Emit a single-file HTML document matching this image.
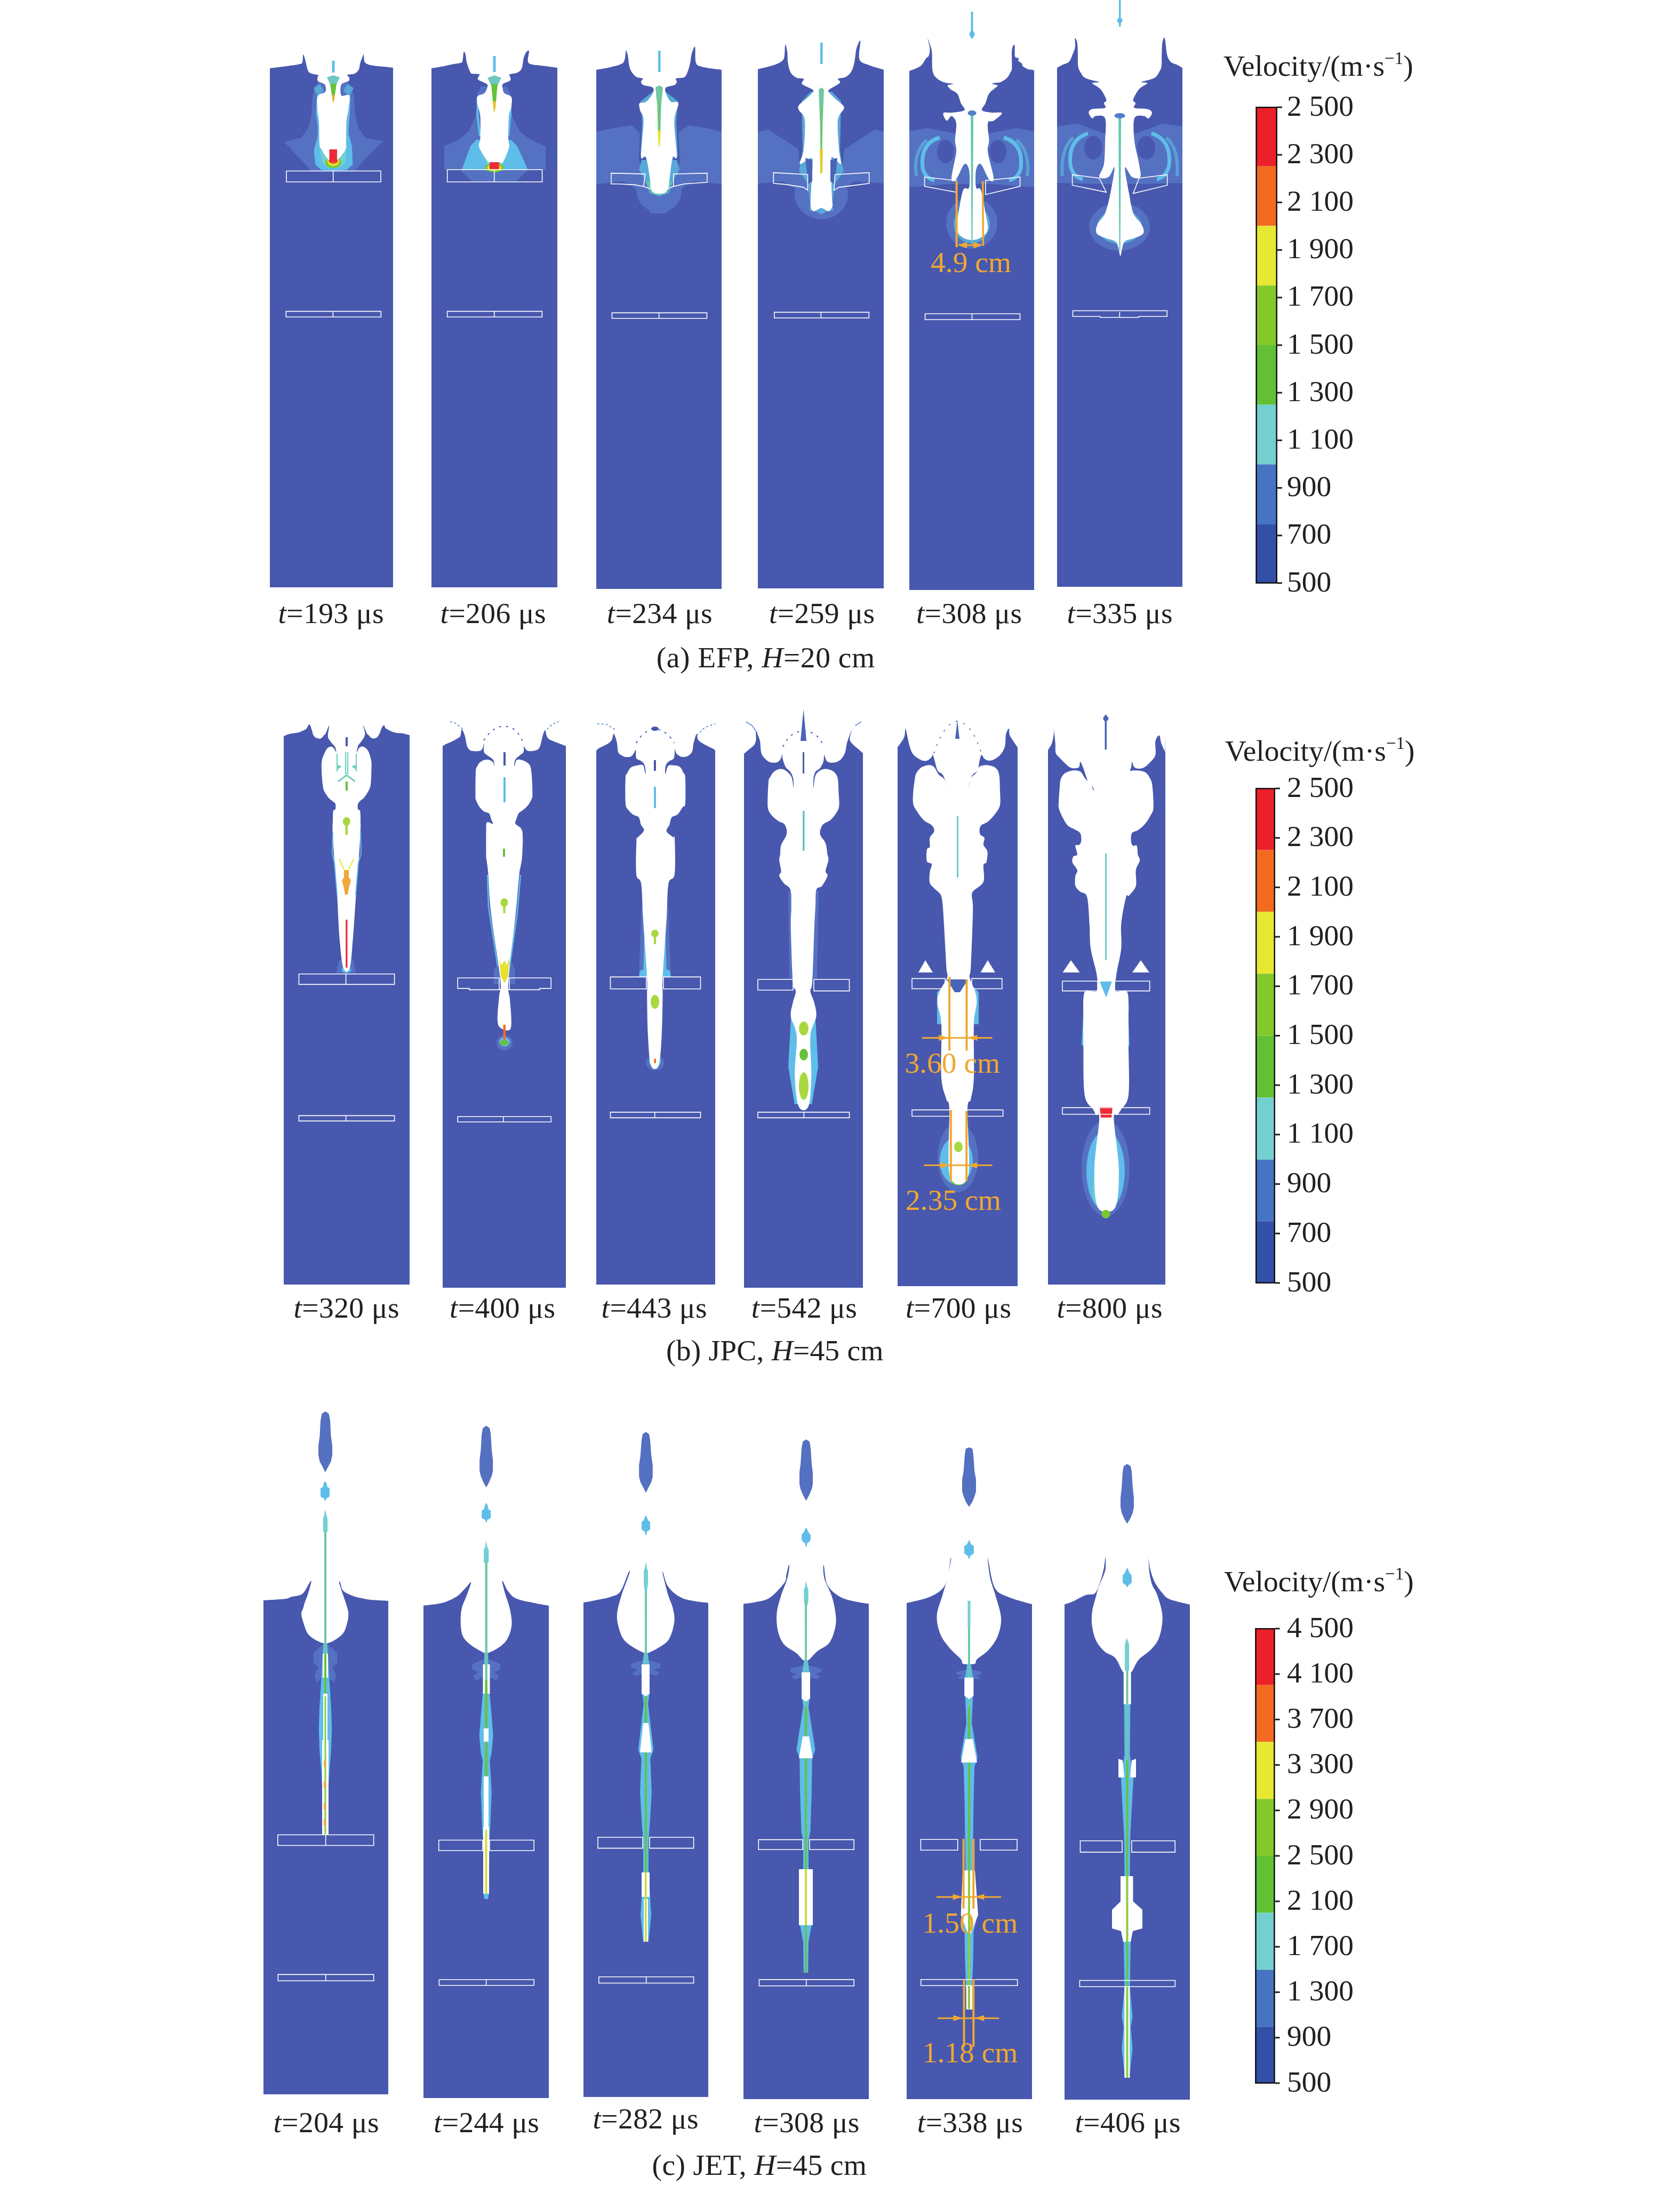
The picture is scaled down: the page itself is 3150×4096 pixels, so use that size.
<!DOCTYPE html>
<html><head><meta charset="utf-8"><style>
html,body{margin:0;padding:0;background:#fff;}
svg{display:block;font-family:'Liberation Serif',serif;}
</style></head><body>
<svg width="3150" height="4096" viewBox="0 0 3150 4096" shape-rendering="geometricPrecision">
<rect width="3150" height="4096" fill="#fff"/>
<rect x="506" y="60" width="231" height="1041" fill="#4858ae"/>
<rect x="809" y="60" width="236" height="1041" fill="#4858ae"/>
<rect x="1118" y="60" width="235" height="1044" fill="#4858ae"/>
<rect x="1421" y="60" width="236" height="1043" fill="#4858ae"/>
<rect x="1705" y="30" width="234" height="1076" fill="#4858ae"/>
<rect x="1982" y="0" width="235" height="1100" fill="#4858ae"/>
<rect x="532" y="1330" width="236" height="1078" fill="#4858ae"/>
<rect x="830" y="1330" width="231" height="1084" fill="#4858ae"/>
<rect x="1118" y="1330" width="223" height="1078" fill="#4858ae"/>
<rect x="1395" y="1330" width="223" height="1084" fill="#4858ae"/>
<rect x="1683" y="1330" width="225" height="1081" fill="#4858ae"/>
<rect x="1965" y="1330" width="220" height="1078" fill="#4858ae"/>
<rect x="494" y="2960" width="234" height="966" fill="#4858ae"/>
<rect x="794" y="2960" width="235" height="973" fill="#4858ae"/>
<rect x="1094" y="2940" width="234" height="991" fill="#4858ae"/>
<rect x="1394" y="2920" width="235" height="1015" fill="#4858ae"/>
<rect x="1700" y="2910" width="235" height="1025" fill="#4858ae"/>
<rect x="1996" y="2900" width="235" height="1036" fill="#4858ae"/>
<path d="M533.0,266.0 L548.0,262.0 L565.0,258.0 L578.0,240.0 L584.0,215.0 L586.0,180.0 L592.0,160.0 L600.0,152.0 L650.0,152.0 L658.0,160.0 L664.0,180.0 L666.0,215.0 L672.0,240.0 L685.0,258.0 L702.0,262.0 L719.0,264.0 L690.0,292.0 L664.0,322.0 L585.0,322.0 L560.0,295.0 Z" fill="#5571c2" />
<path d="M596.0,255.0 L588.5,281.0 L591.3,308.8 L602.3,318.4 L625.0,320.0 L650.0,318.4 L661.4,308.8 L660.0,274.4 L655.0,255.0 Z" fill="#5fbde9" />
<path d="M596.0,178.0 L594.5,212.5 L598.0,240.0 L597.0,270.0" fill="none" stroke="#5fbde9" stroke-width="4" stroke-linejoin="round" />
<path d="M655.0,178.0 L654.0,212.5 L651.5,240.0 L652.0,270.0" fill="none" stroke="#5fbde9" stroke-width="4" stroke-linejoin="round" />
<path d="M588.0,165.0 L600.0,158.0 L607.0,170.0 L596.0,181.0 Z" fill="#58a8d8" />
<path d="M663.0,165.0 L651.0,158.0 L644.0,170.0 L655.0,181.0 Z" fill="#58a8d8" />
<path d="M600.0,282.0 L604.0,305.0 L615.0,314.0 L636.0,314.0 L648.0,305.0 L650.0,282.0 L625.0,290.0 Z" fill="#72d0d2" />
<ellipse cx="625" cy="305" rx="15" ry="10" fill="#7cc832"/>
<ellipse cx="625" cy="303" rx="11" ry="8" fill="#e6e832"/>
<ellipse cx="625" cy="301" rx="9" ry="6.5" fill="#f26b21"/>
<path d="M506.0,0.0 C506.0,0.0 506.0,128.0 506.0,128.0 C506.0,128.0 523.0,125.9 530.0,125.0 C537.0,124.1 542.8,123.4 548.0,122.6 C553.2,121.8 557.8,121.2 561.0,120.3 C564.2,119.4 565.8,120.0 567.0,117.0 C568.2,114.0 567.6,104.1 568.3,102.6 C569.0,101.1 570.1,105.5 571.0,108.0 C571.9,110.5 572.7,114.2 573.5,117.5 C574.3,120.8 574.9,124.9 576.0,128.0 C577.1,131.1 577.8,134.1 580.0,136.0 C582.2,137.9 586.7,138.4 589.5,139.2 C592.3,139.9 595.9,139.9 597.0,140.5 C598.1,141.1 596.2,141.1 596.0,143.0 C595.8,144.9 593.8,149.4 596.0,152.0 C598.2,154.6 606.7,155.3 609.0,158.6 C611.3,161.9 612.2,168.4 610.0,172.0 C607.8,175.6 598.5,174.5 596.0,180.0 C593.5,185.5 594.7,197.0 595.0,205.0 C595.3,213.0 597.3,217.2 598.0,228.0 C598.7,238.8 598.3,261.5 599.0,270.0 C599.7,278.5 599.0,274.0 602.0,279.0 C605.0,284.0 612.0,296.5 617.0,300.0 C622.0,303.5 626.8,303.3 632.0,300.0 C637.2,296.7 645.2,285.3 648.0,280.0 C650.8,274.7 648.7,276.8 649.0,268.0 C649.3,259.2 649.2,237.7 650.0,227.0 C650.8,216.3 652.7,212.0 653.5,204.0 C654.3,196.0 657.0,183.2 654.7,179.0 C652.5,174.8 642.5,182.4 640.0,179.0 C637.5,175.6 637.8,163.1 640.0,158.6 C642.2,154.1 651.0,154.3 653.5,152.0 C656.0,149.7 655.1,146.9 654.7,145.0 C654.3,143.1 649.6,141.5 651.3,140.3 C653.0,139.1 661.4,139.7 665.0,138.0 C668.6,136.3 671.3,133.2 673.0,130.0 C674.7,126.8 674.1,122.6 675.3,118.6 C676.5,114.6 678.9,108.7 680.0,106.0 C681.1,103.3 681.5,101.1 682.0,102.6 C682.5,104.1 682.1,112.0 683.3,115.0 C684.5,118.0 686.0,118.9 689.0,120.3 C692.0,121.7 696.4,122.4 701.6,123.2 C706.8,124.0 714.1,124.4 720.0,125.0 C725.9,125.6 737.0,127.0 737.0,127.0 C737.0,127.0 737.0,0.0 737.0,0.0 Z" fill="#ffffff"/>
<path d="M613.0,145.0 L625.0,141.0 L637.0,145.0 L631.0,158.0 L619.0,158.0 Z" fill="#6cc8c0" />
<path d="M619.0,157.0 L631.0,157.0 L628.0,178.0 L626.0,188.0 L622.0,178.0 Z" fill="#66c23a" />
<path d="M622.0,178.0 L628.0,178.0 L626.5,188.0 L625.0,193.0 L623.5,188.0 Z" fill="#e8b030" />
<rect x="622.5" y="114" width="5" height="22" fill="#5fbde9"/>
<rect x="617.5" y="280" width="14.5" height="24" fill="#ec2a3a"/>
<path d="M537.0,320.5 L714.0,320.5 L714.0,341.0 L537.0,341.0 Z" fill="none" stroke="#fff" stroke-width="1.6"/>
<line x1="624.7" y1="320.5" x2="624.7" y2="341" stroke="#fff" stroke-width="1.6"/>
<path d="M536.4,583.6 L714.3,583.6 L714.3,594.3 L536.4,594.3 Z" fill="none" stroke="#fff" stroke-width="1.6"/>
<line x1="624.3" y1="583.6" x2="624.3" y2="594.3" stroke="#fff" stroke-width="1.6"/>
<path d="M833.0,274.0 L860.0,262.0 L879.0,246.0 L892.0,217.0 L895.0,177.0 L902.0,162.0 L950.0,162.0 L957.0,177.0 L960.0,217.0 L974.0,246.0 L995.0,262.0 L1023.0,274.0 L1023.0,318.0 L990.0,318.0 L968.0,340.0 L885.0,340.0 L862.0,318.0 L833.0,318.0 Z" fill="#5571c2" />
<path d="M893.0,262.0 L882.0,274.0 L866.0,318.0 L989.7,318.0 L970.0,274.0 L958.0,262.0 Z" fill="#5fbde9" />
<path d="M896.0,182.0 L895.3,215.0 L900.0,255.0" fill="none" stroke="#5fbde9" stroke-width="4" stroke-linejoin="round" />
<path d="M957.0,182.0 L957.0,215.0 L953.0,255.0" fill="none" stroke="#5fbde9" stroke-width="4" stroke-linejoin="round" />
<path d="M898.0,276.0 L912.0,305.0 L918.0,318.0 L938.0,318.0 L944.0,305.0 L955.0,276.0 L927.0,290.0 Z" fill="#72d0d2" />
<ellipse cx="927" cy="314" rx="18" ry="9" fill="#7cc832"/>
<ellipse cx="927" cy="314" rx="13" ry="6" fill="#e6e832"/>
<ellipse cx="927" cy="313" rx="10" ry="5" fill="#f26b21"/>
<path d="M809.0,0.0 C809.0,0.0 809.0,128.0 809.0,128.0 C809.0,128.0 827.9,125.0 833.0,124.0 C838.1,123.0 836.9,123.0 839.9,122.3 C842.9,121.6 847.3,120.8 851.3,120.0 C855.3,119.2 861.2,118.7 863.9,117.7 C866.6,116.8 866.3,117.7 867.3,114.3 C868.2,110.9 868.6,99.1 869.6,97.2 C870.6,95.3 872.0,99.5 873.0,102.9 C874.0,106.3 873.8,112.2 875.3,117.7 C876.8,123.2 880.3,132.6 882.2,136.0 C884.1,139.4 883.9,137.7 886.8,138.3 C889.6,138.9 897.6,138.6 899.3,139.5 C901.0,140.4 897.4,142.3 897.0,144.0 C896.6,145.7 894.3,147.5 897.0,149.8 C899.7,152.1 910.3,155.1 913.0,157.8 C915.7,160.5 913.8,162.9 913.0,165.8 C912.2,168.7 911.0,172.5 908.0,175.0 C905.0,177.5 897.4,177.3 895.3,180.7 C893.2,184.1 894.4,189.4 895.3,195.5 C896.2,201.6 899.6,206.8 900.5,217.3 C901.4,227.8 900.8,248.6 900.5,258.5 C900.2,268.4 896.1,268.9 898.8,276.7 C901.5,284.5 913.3,300.8 916.5,305.4 C919.7,309.9 914.8,304.2 918.0,304.0 C921.2,303.8 931.9,304.0 936.0,304.0 C940.1,304.0 939.8,308.6 942.8,304.0 C945.8,299.4 952.6,284.3 954.3,276.7 C956.0,269.1 953.0,268.4 953.0,258.5 C953.0,248.6 953.3,227.1 954.3,217.3 C955.3,207.6 958.0,205.9 958.8,200.0 C959.5,194.1 960.9,186.0 958.8,181.8 C956.7,177.6 948.7,177.5 946.0,175.0 C943.3,172.5 943.3,169.9 942.8,167.0 C942.3,164.1 940.5,160.5 942.8,157.8 C945.1,155.1 954.2,153.3 956.5,151.0 C958.8,148.7 956.7,145.9 956.5,144.0 C956.3,142.1 953.1,140.8 955.4,139.5 C957.7,138.2 966.5,137.9 970.3,136.0 C974.1,134.1 976.4,132.4 978.3,128.0 C980.2,123.6 980.4,114.7 981.7,109.7 C983.0,104.8 984.6,100.6 986.3,98.3 C988.0,96.0 991.2,92.8 992.0,96.0 C992.8,99.2 987.3,113.2 990.9,117.7 C994.5,122.2 1008.4,121.9 1013.7,122.9 C1019.1,124.0 1017.8,123.3 1023.0,124.0 C1028.2,124.7 1045.0,127.0 1045.0,127.0 C1045.0,127.0 1045.0,0.0 1045.0,0.0 Z" fill="#ffffff"/>
<path d="M914.0,146.0 L927.0,141.0 L940.0,146.0 L933.0,160.0 L921.0,160.0 Z" fill="#6cc8c0" />
<path d="M921.0,158.0 L933.0,158.0 L930.0,190.0 L928.0,200.0 L924.0,190.0 Z" fill="#66c23a" />
<path d="M924.0,190.0 L930.0,190.0 L929.0,203.0 L927.0,212.0 L925.0,203.0 Z" fill="#e8c030" />
<rect x="924.5" y="105" width="5" height="30" fill="#5fbde9"/>
<rect x="918.2" y="304" width="17.2" height="13" fill="#ec2a3a"/>
<path d="M838.7,318.0 L1016.6,318.0 L1016.6,341.0 L838.7,341.0 Z" fill="none" stroke="#fff" stroke-width="1.6"/>
<line x1="926.8" y1="318" x2="926.8" y2="341" stroke="#fff" stroke-width="1.6"/>
<path d="M838.6,583.6 L1016.4,583.6 L1016.4,594.3 L838.6,594.3 Z" fill="none" stroke="#fff" stroke-width="1.6"/>
<line x1="926.8" y1="583.6" x2="926.8" y2="594.3" stroke="#fff" stroke-width="1.6"/>
<path d="M1118.0,247.0 L1150.0,240.0 L1185.0,235.0 L1200.0,250.0 L1198.0,300.0 L1205.0,320.0 L1270.0,320.0 L1275.0,300.0 L1272.0,250.0 L1290.0,235.0 L1325.0,240.0 L1353.0,247.0 L1353.0,345.0 L1300.0,340.0 L1280.0,352.0 L1250.0,400.0 L1220.0,400.0 L1190.0,352.0 L1170.0,340.0 L1118.0,345.0 Z" fill="#5571c2" />
<ellipse cx="1236" cy="360" rx="42" ry="38" fill="#5571c2"/>
<path d="M1203.0,300.0 L1198.0,318.0 L1208.0,335.0 L1218.0,362.0 L1236.0,368.0 L1254.0,362.0 L1264.0,335.0 L1274.0,318.0 L1269.0,300.0 Z" fill="#58a8d8" />
<path d="M1212.0,340.0 L1222.0,362.0 L1236.0,366.0 L1250.0,362.0 L1260.0,340.0 Z" fill="#63c9a0" />
<path d="M1201.0,190.0 L1224.0,172.0 L1248.0,172.0 L1271.0,190.0 L1268.0,230.0 L1271.0,293.0 L1262.0,296.0 L1255.0,340.0 L1218.0,340.0 L1211.0,296.0 L1201.0,293.0 L1204.0,230.0 Z" fill="#58a8d8" />
<path d="M1118.0,0.0 C1118.0,0.0 1118.0,130.8 1118.0,130.8 C1118.0,130.8 1127.3,129.4 1132.0,128.5 C1136.7,127.6 1140.8,126.7 1146.0,125.4 C1151.2,124.1 1158.9,122.8 1163.1,120.7 C1167.3,118.6 1169.3,117.8 1171.0,112.9 C1172.7,108.0 1173.5,95.4 1173.2,91.1 C1172.9,86.8 1168.9,85.6 1169.4,87.2 C1169.9,88.8 1174.6,94.1 1176.4,100.5 C1178.2,106.9 1178.6,119.2 1180.3,125.4 C1182.0,131.6 1184.2,134.6 1186.5,137.8 C1188.8,141.0 1191.2,143.2 1194.3,144.8 C1197.4,146.4 1203.9,145.8 1205.2,147.2 C1206.5,148.6 1201.8,151.3 1202.0,153.4 C1202.2,155.5 1203.1,157.8 1206.7,159.6 C1210.3,161.4 1221.0,161.7 1223.8,164.3 C1226.6,166.9 1225.9,170.8 1223.8,175.2 C1221.7,179.6 1215.5,187.6 1211.4,190.7 C1207.3,193.8 1200.8,191.0 1199.0,193.8 C1197.2,196.7 1199.2,202.4 1200.5,207.8 C1201.8,213.2 1206.5,212.2 1206.7,226.5 C1207.0,240.8 1201.2,282.0 1202.0,293.4 C1202.8,304.8 1208.5,287.2 1211.4,295.0 C1214.3,302.8 1217.9,330.7 1219.2,340.0 C1220.5,349.3 1217.9,347.3 1219.2,351.0 C1220.5,354.7 1222.6,360.2 1227.0,362.0 C1231.4,363.8 1241.2,363.8 1245.6,362.0 C1250.0,360.2 1251.8,354.7 1253.4,351.0 C1255.0,347.3 1253.7,349.3 1255.0,340.0 C1256.3,330.7 1258.9,302.8 1261.2,295.0 C1263.5,287.2 1268.5,304.8 1269.0,293.4 C1269.5,282.0 1263.8,243.1 1264.3,226.5 C1264.8,209.9 1273.0,199.8 1272.0,193.8 C1271.0,187.8 1261.9,193.8 1258.0,190.7 C1254.1,187.6 1250.2,179.6 1248.7,175.2 C1247.2,170.8 1246.1,166.9 1248.7,164.3 C1251.3,161.7 1260.9,161.4 1264.3,159.6 C1267.7,157.8 1268.5,155.5 1269.0,153.4 C1269.5,151.3 1265.1,148.6 1267.4,147.2 C1269.7,145.8 1279.4,146.9 1283.0,144.8 C1286.6,142.7 1287.4,139.0 1289.2,134.7 C1291.0,130.4 1292.6,124.8 1293.9,119.1 C1295.2,113.4 1295.5,105.7 1297.0,100.5 C1298.5,95.3 1301.9,85.2 1303.2,88.0 C1304.5,90.8 1302.5,111.4 1304.8,117.6 C1307.1,123.8 1309.2,123.2 1317.2,125.4 C1325.2,127.6 1353.0,130.8 1353.0,130.8 C1353.0,130.8 1353.0,0.0 1353.0,0.0 Z" fill="#ffffff"/>
<path d="M1229.0,164.0 L1236.0,160.0 L1243.0,164.0 L1239.5,200.0 L1238.0,260.0 L1236.0,275.0 L1234.0,260.0 L1232.5,200.0 Z" fill="#72c8a0" />
<path d="M1234.5,190.0 L1237.5,190.0 L1237.0,265.0 L1235.0,265.0 Z" fill="#6cc85a" />
<path d="M1233.0,245.0 L1239.0,245.0 L1237.0,275.0 L1235.0,275.0 Z" fill="#e6e832" />
<rect x="1234" y="95" width="4.5" height="40" fill="#5fbde9"/>
<path d="M1146.0,324.6 L1209.8,326.1 L1206.7,349.5 L1189.6,346.4 L1158.5,344.8 L1146.0,344.8 Z" fill="none" stroke="#fff" stroke-width="1.6"/>
<path d="M1262.7,326.1 L1325.8,324.6 L1325.8,341.7 L1283.0,344.8 L1262.7,349.5 Z" fill="none" stroke="#fff" stroke-width="1.6"/>
<path d="M1206.7,349.5 L1219.2,354.1" fill="none" stroke="#fff" stroke-width="1.6" stroke-linejoin="round" />
<path d="M1262.7,349.5 L1251.8,354.1" fill="none" stroke="#fff" stroke-width="1.6" stroke-linejoin="round" />
<path d="M1147.5,586.4 L1325.4,586.4 L1325.4,596.8 L1147.5,596.8 Z" fill="none" stroke="#fff" stroke-width="1.6"/>
<line x1="1235.7" y1="586.4" x2="1235.7" y2="596.8" stroke="#fff" stroke-width="1.6"/>
<path d="M1421.0,247.0 L1440.0,243.0 L1470.0,262.0 L1497.0,280.0 L1500.0,310.0 L1580.0,310.0 L1583.0,280.0 L1610.0,262.0 L1640.0,243.0 L1657.0,247.0 L1657.0,344.0 L1600.0,340.0 L1580.0,360.0 L1500.0,360.0 L1470.0,340.0 L1421.0,344.0 Z" fill="#5571c2" />
<ellipse cx="1540" cy="365" rx="50" ry="46" fill="#5571c2"/>
<path d="M1505.0,290.0 L1498.0,320.0 L1515.0,345.0 L1520.0,390.0 L1540.0,402.0 L1560.0,390.0 L1565.0,345.0 L1582.0,320.0 L1575.0,290.0 Z" fill="#58a8d8" />
<path d="M1503.0,190.0 L1520.0,172.0 L1560.0,172.0 L1577.0,190.0 L1575.0,280.0 L1578.0,307.0 L1556.0,300.0 L1562.0,395.0 L1518.0,395.0 L1523.0,300.0 L1502.0,307.0 L1505.0,280.0 Z" fill="#58a8d8" />
<path d="M1421.0,0.0 C1421.0,0.0 1421.0,129.6 1421.0,129.6 C1421.0,129.6 1439.6,125.3 1446.6,123.2 C1453.6,121.1 1459.1,119.4 1463.1,116.8 C1467.1,114.2 1468.9,113.1 1470.4,107.6 C1471.9,102.1 1471.4,85.6 1472.3,83.8 C1473.2,82.0 1475.1,90.5 1476.0,96.6 C1476.9,102.7 1476.6,113.7 1477.8,120.4 C1479.0,127.1 1480.5,132.6 1483.2,136.9 C1485.9,141.2 1490.2,144.2 1494.2,146.0 C1498.2,147.8 1505.5,146.4 1507.0,147.9 C1508.5,149.4 1503.4,153.2 1503.4,155.2 C1503.4,157.2 1503.7,157.7 1507.0,159.8 C1510.3,161.9 1520.8,165.7 1523.5,168.0 C1526.2,170.3 1525.3,170.8 1523.5,173.5 C1521.7,176.2 1516.8,180.5 1512.5,184.5 C1508.2,188.5 1500.3,193.6 1497.9,197.3 C1495.5,201.0 1496.1,201.9 1497.9,206.5 C1499.7,211.1 1507.4,212.6 1508.9,224.8 C1510.4,237.0 1508.5,266.0 1507.0,279.7 C1505.5,293.4 1498.2,304.1 1499.7,307.2 C1501.2,310.2 1512.2,298.9 1516.2,298.0 C1520.2,297.1 1522.7,292.5 1523.5,301.7 C1524.3,310.9 1521.6,339.0 1521.0,353.0 C1520.4,367.0 1519.2,378.7 1520.0,385.9 C1520.8,393.1 1522.7,395.3 1526.0,396.0 C1529.3,396.7 1535.3,390.0 1540.0,390.0 C1544.7,390.0 1550.5,396.8 1554.0,396.0 C1557.5,395.2 1560.0,389.1 1561.0,385.0 C1562.0,380.9 1560.5,385.1 1560.0,371.2 C1559.5,357.3 1557.7,314.2 1558.3,301.7 C1558.9,289.2 1560.8,295.3 1563.8,296.2 C1566.8,297.1 1575.1,309.9 1576.6,307.2 C1578.1,304.4 1573.9,293.4 1573.0,279.7 C1572.1,266.0 1569.6,237.3 1571.1,224.8 C1572.6,212.3 1580.6,209.2 1582.1,204.6 C1583.6,200.0 1582.7,200.4 1580.3,197.3 C1577.9,194.2 1571.8,190.3 1567.5,186.3 C1563.2,182.3 1556.8,176.6 1554.7,173.5 C1552.6,170.4 1551.4,171.1 1554.7,168.0 C1558.0,164.9 1572.1,158.5 1574.8,155.2 C1577.5,151.8 1569.3,149.7 1571.1,147.9 C1572.9,146.1 1581.5,146.6 1585.8,144.2 C1590.1,141.8 1594.0,138.1 1596.8,133.2 C1599.5,128.3 1600.8,121.9 1602.3,114.9 C1603.8,107.9 1604.1,97.5 1605.9,91.1 C1607.7,84.7 1612.3,73.1 1613.2,76.5 C1614.1,79.9 1608.7,103.7 1611.4,111.3 C1614.2,118.9 1622.1,119.0 1629.7,122.2 C1637.3,125.4 1657.0,130.5 1657.0,130.5 C1657.0,130.5 1657.0,0.0 1657.0,0.0 Z" fill="#ffffff"/>
<path d="M1510.0,296.0 L1523.0,300.0 L1523.0,340.0 L1515.0,345.0 Z" fill="#4a64b8" />
<path d="M1570.0,296.0 L1557.0,300.0 L1557.0,340.0 L1565.0,345.0 Z" fill="#4a64b8" />
<path d="M1535.0,168.0 L1540.0,164.0 L1545.0,168.0 L1542.5,230.0 L1541.0,320.0 L1539.0,320.0 L1537.5,230.0 Z" fill="#72c8a0" />
<path d="M1538.5,200.0 L1541.5,200.0 L1541.0,300.0 L1539.0,300.0 Z" fill="#6cc85a" />
<path d="M1537.0,280.0 L1543.0,280.0 L1542.0,325.0 L1538.0,325.0 Z" fill="#e0d030" />
<rect x="1538" y="80" width="4.5" height="40" fill="#5fbde9"/>
<path d="M1450.3,323.6 L1514.4,327.3 L1514.4,356.6 L1507.0,351.1 L1472.3,345.6 L1450.3,343.8 Z" fill="none" stroke="#fff" stroke-width="1.6"/>
<path d="M1565.6,327.3 L1629.7,323.6 L1629.7,343.8 L1602.3,347.4 L1573.0,351.1 L1563.8,356.6 Z" fill="none" stroke="#fff" stroke-width="1.6"/>
<path d="M1451.8,585.4 L1629.3,585.4 L1629.3,596.0 L1451.8,596.0 Z" fill="none" stroke="#fff" stroke-width="1.6"/>
<line x1="1539.3" y1="585.4" x2="1539.3" y2="596" stroke="#fff" stroke-width="1.6"/>
<path d="M1705.0,246.0 L1740.0,240.0 L1790.0,250.0 L1855.0,250.0 L1905.0,240.0 L1939.0,246.0 L1939.0,351.0 L1860.0,345.0 L1780.0,345.0 L1705.0,351.0 Z" fill="#5571c2" />
<ellipse cx="1773" cy="284" rx="16" ry="22" fill="#4858ae"/>
<ellipse cx="1871" cy="284" rx="16" ry="22" fill="#4858ae"/>
<path d="M1762,258 Q1725,268 1730,315 Q1735,335 1752,338" fill="none" stroke="#5fbde9" stroke-width="7"/>
<path d="M1882,258 Q1919,268 1914,315 Q1909,335 1892,338" fill="none" stroke="#5fbde9" stroke-width="7"/>
<path d="M1738,262 Q1712,285 1718,330" fill="none" stroke="#58a0d8" stroke-width="6"/>
<path d="M1906,262 Q1932,285 1926,330" fill="none" stroke="#58a0d8" stroke-width="6"/>
<ellipse cx="1822" cy="418" rx="48" ry="48" fill="#5571c2"/>
<ellipse cx="1822" cy="420" rx="34" ry="36" fill="#58a8d8"/>
<path d="M1739.4,72.2 L1734.8,55.7 L1726.5,42.0 L1710.0,38.3" fill="none" stroke="#5fbde9" stroke-width="1.5" stroke-linejoin="round" />
<path d="M1902.3,84.1 L1910.0,55.0 L1918.0,44.0 L1930.7,38.3" fill="none" stroke="#5fbde9" stroke-width="1.5" stroke-linejoin="round" />
<path d="M1705.0,0.0 C1705.0,0.0 1705.0,133.0 1705.0,133.0 C1705.0,133.0 1713.2,130.2 1716.9,128.5 C1720.7,126.8 1724.2,125.7 1727.5,122.5 C1730.8,119.3 1734.2,112.2 1736.6,109.2 C1738.9,106.2 1740.4,107.3 1741.6,104.2 C1742.8,101.1 1743.9,95.8 1743.5,90.5 C1743.1,85.2 1739.0,72.4 1739.4,72.2 C1739.8,72.0 1744.4,84.6 1745.8,89.6 C1747.2,94.6 1747.1,95.2 1747.6,102.4 C1748.0,109.6 1747.1,125.3 1748.5,132.6 C1749.9,139.9 1752.1,142.6 1755.8,146.3 C1759.5,150.0 1765.3,152.8 1770.5,154.6 C1775.7,156.4 1785.9,156.4 1787.0,157.3 C1788.1,158.2 1777.7,158.3 1776.9,160.0 C1776.1,161.7 1779.4,164.8 1782.4,167.4 C1785.4,170.0 1791.8,171.5 1795.0,175.8 C1798.2,180.1 1799.5,188.3 1801.7,193.4 C1803.9,198.5 1810.9,203.6 1808.3,206.5 C1805.7,209.4 1792.9,210.1 1786.3,211.0 C1779.7,211.9 1770.5,209.4 1768.7,212.0 C1766.9,214.6 1772.7,225.4 1775.3,226.3 C1777.9,227.2 1781.2,216.8 1784.1,217.5 C1787.0,218.2 1791.8,223.0 1792.9,230.7 C1794.0,238.4 1790.7,254.5 1790.7,263.7 C1790.7,272.9 1794.0,273.9 1792.9,285.6 C1791.8,297.3 1784.1,325.6 1784.1,334.0 C1784.1,342.4 1788.9,340.6 1792.9,336.2 C1796.9,331.8 1804.3,310.5 1808.3,307.6 C1812.3,304.7 1815.5,311.3 1817.0,318.6 C1818.5,325.9 1818.8,345.4 1817.0,351.6 C1815.2,357.8 1809.3,347.9 1806.0,356.0 C1802.7,364.1 1799.2,387.7 1797.0,400.0 C1794.8,412.3 1791.7,422.5 1793.0,430.0 C1794.3,437.5 1800.2,441.7 1805.0,445.0 C1809.8,448.3 1816.2,450.0 1822.0,450.0 C1827.8,450.0 1835.0,448.3 1840.0,445.0 C1845.0,441.7 1850.7,437.5 1852.0,430.0 C1853.3,422.5 1850.2,412.3 1848.0,400.0 C1845.8,387.7 1842.0,364.1 1839.0,356.0 C1836.0,347.9 1831.7,357.8 1830.2,351.6 C1828.7,345.4 1828.7,325.9 1830.2,318.6 C1831.7,311.3 1835.0,304.7 1839.0,307.6 C1843.0,310.5 1850.4,331.8 1854.4,336.2 C1858.4,340.6 1863.6,342.4 1863.2,334.0 C1862.8,325.6 1853.7,297.3 1852.2,285.6 C1850.7,273.9 1854.4,272.9 1854.4,263.7 C1854.4,254.5 1850.7,236.9 1852.2,230.7 C1853.7,224.5 1858.8,229.4 1863.2,226.3 C1867.6,223.2 1879.3,214.6 1878.6,212.0 C1877.9,209.4 1865.0,211.9 1858.8,211.0 C1852.6,210.1 1843.0,209.4 1841.2,206.5 C1839.4,203.6 1845.6,198.5 1847.8,193.4 C1850.0,188.3 1851.3,180.6 1854.4,175.8 C1857.5,171.0 1863.9,167.2 1866.6,164.6 C1869.2,162.0 1871.4,161.2 1870.3,160.0 C1869.2,158.8 1861.0,158.1 1860.2,157.3 C1859.4,156.6 1862.8,155.9 1865.2,155.5 C1867.7,155.1 1872.4,155.2 1874.9,154.6 C1877.4,154.0 1878.3,153.0 1880.3,151.8 C1882.3,150.6 1885.0,148.9 1886.8,147.2 C1888.6,145.5 1890.1,143.5 1891.3,141.7 C1892.5,139.9 1893.1,138.5 1894.1,136.2 C1895.1,133.9 1896.8,135.0 1897.3,128.0 C1897.8,121.0 1896.5,101.4 1897.3,94.1 C1898.1,86.8 1901.3,82.1 1902.3,84.1 C1903.3,86.1 1902.0,101.9 1903.2,106.0 C1904.4,110.1 1908.5,107.4 1909.6,108.8 C1910.7,110.2 1908.5,112.6 1909.6,114.3 C1910.7,116.0 1914.6,117.2 1916.0,118.9 C1917.4,120.6 1915.9,122.5 1917.9,124.3 C1919.9,126.1 1924.7,128.7 1927.9,129.8 C1931.1,131.0 1935.2,130.6 1937.1,131.2 C1938.9,131.8 1939.0,133.5 1939.0,133.5 C1939.0,133.5 1939.0,0.0 1939.0,0.0 Z" fill="#ffffff"/>
<path d="M1820.1,208.0 L1825.1,208.0 L1823.6,460.0 L1821.6,460.0 Z" fill="#62c8b0" />
<ellipse cx="1822.6" cy="212" rx="8" ry="5" fill="#4f7fcc"/>
<rect x="1820.5" y="22" width="4" height="50" fill="#5fbde9"/>
<ellipse cx="1822.6" cy="64" rx="5" ry="6" fill="#5fbde9"/>
<path d="M1733.6,331.8 L1792.9,338.4 L1792.9,360.4 L1733.6,349.4 Z" fill="none" stroke="#fff" stroke-width="1.6"/>
<path d="M1847.8,338.4 L1912.6,331.8 L1912.6,349.4 L1847.8,364.8 Z" fill="none" stroke="#fff" stroke-width="1.6"/>
<path d="M1734.6,588.2 L1912.5,588.2 L1912.5,599.3 L1734.6,599.3 Z" fill="none" stroke="#fff" stroke-width="1.6"/>
<line x1="1822.5" y1="588.2" x2="1822.5" y2="599.3" stroke="#fff" stroke-width="1.6"/>
<rect x="1791.6" y="339.6" width="4" height="123.8" fill="#f0a830"/>
<path d="M1840.9,339.6 L1844.4,339.6 L1845.2,460.7 L1841.7,460.7 Z" fill="#f0a830" />
<line x1="1798" y1="459.6" x2="1839" y2="459.6" stroke="#f0a830" stroke-width="3"/>
<path d="M1795.6,459.6 L1813.0,453.5 L1813.0,465.5 Z" fill="#f0a830" />
<path d="M1842.5,459.6 L1825.0,453.5 L1825.0,465.5 Z" fill="#f0a830" />
<text x="1745" y="510" font-size="55.5" fill="#f0a830" >4.9 cm</text>
<path d="M1982.0,237.0 L2020.0,232.0 L2070.0,250.0 L2130.0,250.0 L2180.0,232.0 L2217.0,237.0 L2217.0,343.0 L2140.0,345.0 L2060.0,345.0 L1982.0,343.0 Z" fill="#5571c2" />
<ellipse cx="2050" cy="277" rx="17" ry="22" fill="#4858ae"/>
<ellipse cx="2149" cy="277" rx="17" ry="22" fill="#4858ae"/>
<path d="M2040,250 Q2002,262 2007,310 Q2012,332 2030,336" fill="none" stroke="#5fbde9" stroke-width="7"/>
<path d="M2159,250 Q2197,262 2192,310 Q2187,332 2169,336" fill="none" stroke="#5fbde9" stroke-width="7"/>
<path d="M2012,258 Q1988,280 1992,330" fill="none" stroke="#58a0d8" stroke-width="6"/>
<path d="M2187,258 Q2211,280 2207,330" fill="none" stroke="#58a0d8" stroke-width="6"/>
<ellipse cx="2099" cy="425" rx="57" ry="45" fill="#5571c2"/>
<ellipse cx="2099" cy="425" rx="42" ry="32" fill="#58a8d8"/>
<path d="M2015.4,71.4 L2006.0,40.0 L1995.0,22.0 L1982.4,15.4" fill="none" stroke="#5fbde9" stroke-width="1.5" stroke-linejoin="round" />
<path d="M2183.8,71.4 L2193.0,40.0 L2204.0,22.0 L2216.8,15.4" fill="none" stroke="#5fbde9" stroke-width="1.5" stroke-linejoin="round" />
<path d="M1982.0,0.0 C1982.0,0.0 1982.0,127.4 1982.0,127.4 C1982.0,127.4 1988.0,123.5 1991.2,122.0 C1994.4,120.5 1998.6,119.5 2001.1,118.1 C2003.6,116.7 2004.3,116.3 2006.0,113.7 C2007.7,111.1 2009.3,106.5 2011.0,102.2 C2012.7,97.9 2015.2,93.0 2015.9,87.9 C2016.6,82.8 2014.8,72.7 2015.4,71.4 C2016.1,70.1 2018.9,75.6 2019.8,80.2 C2020.7,84.8 2020.6,91.6 2020.9,98.9 C2021.2,106.2 2020.5,118.0 2021.4,124.2 C2022.3,130.4 2024.5,132.8 2026.4,136.3 C2028.3,139.8 2030.1,142.9 2033.0,145.1 C2035.9,147.3 2039.4,148.1 2044.0,149.5 C2048.6,150.9 2059.8,152.7 2060.4,153.8 C2061.1,154.9 2047.4,153.8 2047.9,156.0 C2048.4,158.2 2058.9,161.9 2063.3,167.0 C2067.7,172.1 2073.2,182.4 2074.3,186.8 C2075.4,191.2 2070.3,190.8 2069.9,193.4 C2069.5,196.0 2075.8,200.4 2072.1,202.2 C2068.4,204.0 2053.0,202.9 2047.9,204.4 C2042.8,205.9 2041.3,208.1 2041.3,211.0 C2041.3,213.9 2045.7,220.9 2047.9,222.0 C2050.1,223.1 2050.5,217.5 2054.5,217.5 C2058.5,217.5 2069.2,214.3 2072.1,222.0 C2075.0,229.7 2072.5,249.4 2072.1,263.7 C2071.7,278.0 2071.7,296.2 2069.9,307.6 C2068.1,319.0 2059.6,327.8 2061.1,331.8 C2062.6,335.8 2073.9,334.7 2078.7,331.8 C2083.5,328.9 2089.1,309.1 2089.7,314.2 C2090.2,319.3 2084.9,348.3 2082.0,362.6 C2079.1,376.9 2076.0,390.4 2072.0,400.0 C2068.0,409.6 2060.7,413.8 2058.0,420.0 C2055.3,426.2 2053.7,432.7 2056.0,437.0 C2058.3,441.3 2066.3,443.5 2072.0,446.0 C2077.7,448.5 2085.9,449.4 2090.0,452.0 C2094.1,454.6 2094.5,456.7 2096.3,461.4 C2098.1,466.1 2099.2,480.0 2100.6,480.0 C2102.0,480.0 2103.4,466.1 2105.0,461.4 C2106.6,456.7 2106.2,454.6 2110.0,452.0 C2113.8,449.4 2122.3,448.5 2128.0,446.0 C2133.7,443.5 2142.0,441.3 2144.0,437.0 C2146.0,432.7 2143.2,426.2 2140.0,420.0 C2136.8,413.8 2128.8,409.6 2125.0,400.0 C2121.2,390.4 2119.6,376.9 2117.0,362.6 C2114.4,348.3 2108.5,319.3 2109.4,314.2 C2110.3,309.1 2117.8,328.9 2122.6,331.8 C2127.4,334.7 2135.8,335.8 2138.0,331.8 C2140.2,327.8 2137.6,319.0 2135.8,307.6 C2134.0,296.2 2128.5,278.0 2127.0,263.7 C2125.5,249.4 2124.1,229.7 2127.0,222.0 C2129.9,214.3 2140.2,217.5 2144.6,217.5 C2149.0,217.5 2150.8,223.1 2153.4,222.0 C2156.0,220.9 2160.4,213.9 2160.0,211.0 C2159.6,208.1 2156.7,205.9 2151.2,204.4 C2145.7,202.9 2130.7,204.0 2127.0,202.2 C2123.3,200.4 2129.6,196.0 2129.2,193.4 C2128.8,190.8 2123.7,191.2 2124.8,186.8 C2125.9,182.4 2131.4,172.1 2135.8,167.0 C2140.2,161.9 2150.5,158.2 2151.2,156.0 C2151.9,153.8 2139.5,154.9 2140.2,153.8 C2140.9,152.7 2150.9,150.9 2155.2,149.5 C2159.5,148.1 2163.3,147.3 2166.2,145.1 C2169.1,142.9 2170.9,139.8 2172.8,136.3 C2174.7,132.8 2176.9,130.4 2177.8,124.2 C2178.7,118.0 2178.0,106.2 2178.3,98.9 C2178.6,91.6 2178.5,84.8 2179.4,80.2 C2180.3,75.6 2182.3,67.7 2183.8,71.4 C2185.3,75.1 2186.6,95.2 2188.2,102.2 C2189.8,109.2 2191.5,111.1 2193.2,113.7 C2194.8,116.3 2195.6,116.7 2198.1,118.1 C2200.6,119.5 2204.8,120.5 2208.0,122.0 C2211.2,123.5 2217.0,127.4 2217.0,127.4 C2217.0,127.4 2217.0,0.0 2217.0,0.0 Z" fill="#ffffff"/>
<path d="M2097.1,217.0 L2102.1,217.0 L2100.6,470.0 L2098.6,470.0 Z" fill="#62c8b0" />
<ellipse cx="2099.6" cy="217" rx="10" ry="5" fill="#4f7fcc"/>
<rect x="2098" y="0" width="3.5" height="50" fill="#5fbde9"/>
<ellipse cx="2099.6" cy="38.5" rx="5" ry="5" fill="#5fbde9"/>
<path d="M2010.6,327.4 L2061.1,334.0 L2074.3,360.4 L2010.6,347.2 Z" fill="none" stroke="#fff" stroke-width="1.6"/>
<path d="M2135.8,334.0 L2188.6,327.4 L2188.6,347.2 L2124.8,362.6 Z" fill="none" stroke="#fff" stroke-width="1.6"/>
<path d="M2011.4,582.5 L2188.2,582.5 L2188.2,593.2 L2135.0,593.2 L2135.0,595.0 L2063.0,595.0 L2063.0,593.2 L2011.4,593.2 L2011.4,582.5" fill="none" stroke="#fff" stroke-width="1.6" stroke-linejoin="round" />
<line x1="2099.3" y1="585" x2="2099.3" y2="595" stroke="#fff" stroke-width="1.6"/>
<path d="M636.0,1800.0 L662.0,1800.0 L668.0,1824.0 L630.0,1824.0 Z" fill="#5571c2" />
<ellipse cx="649.5" cy="1818" rx="9" ry="6" fill="#5fbde9"/>
<path d="M532.0,1300.0 C532.0,1300.0 532.0,1379.9 532.0,1379.9 C532.0,1379.9 538.9,1376.8 543.2,1375.7 C547.5,1374.6 554.2,1374.3 558.0,1373.5 C561.8,1372.7 563.0,1371.9 565.7,1370.7 C568.4,1369.5 571.8,1368.6 574.1,1366.5 C576.5,1364.4 578.1,1358.1 579.8,1358.1 C581.4,1358.1 582.6,1363.0 584.0,1366.5 C585.4,1370.0 586.3,1376.3 588.2,1379.2 C590.1,1382.1 592.9,1383.3 595.2,1384.1 C597.5,1384.9 600.1,1385.1 602.2,1384.1 C604.3,1383.0 606.5,1379.3 607.9,1377.8 C609.3,1376.3 609.2,1377.9 610.7,1375.0 C612.2,1372.1 616.3,1359.3 617.0,1360.2 C617.7,1361.1 614.5,1375.8 614.9,1380.6 C615.2,1385.4 617.5,1386.4 619.1,1389.0 C620.7,1391.6 623.1,1393.9 624.7,1396.0 C626.3,1398.1 628.0,1399.2 628.9,1401.6 C629.8,1403.9 630.8,1409.9 630.3,1410.1 C629.8,1410.3 627.7,1404.8 626.1,1403.0 C624.5,1401.2 622.6,1399.5 620.5,1399.5 C618.4,1399.5 615.6,1400.8 613.5,1403.0 C611.4,1405.2 609.5,1409.2 607.9,1412.9 C606.2,1416.7 604.4,1420.6 603.6,1425.5 C602.8,1430.4 602.7,1434.9 602.9,1442.4 C603.1,1449.9 604.2,1463.7 605.0,1470.5 C605.8,1477.3 606.0,1478.9 607.9,1483.1 C609.8,1487.3 613.5,1492.5 616.3,1495.8 C619.1,1499.1 622.6,1500.9 624.7,1502.8 C626.8,1504.7 628.2,1504.7 628.9,1507.0 C629.6,1509.3 629.6,1514.5 628.9,1516.8 C628.2,1519.1 625.5,1517.1 624.7,1521.0 C623.9,1524.9 624.2,1533.8 624.0,1540.0 C623.8,1546.2 623.1,1545.0 623.6,1557.9 C624.1,1570.8 625.8,1597.6 627.2,1617.4 C628.6,1637.2 630.4,1653.1 632.0,1676.9 C633.6,1700.7 634.7,1737.1 636.7,1760.1 C638.7,1783.1 640.6,1805.7 643.8,1814.8 C647.0,1823.9 652.7,1823.9 655.7,1814.8 C658.7,1805.7 659.7,1783.1 661.7,1760.1 C663.7,1737.1 665.8,1700.7 667.6,1676.9 C669.4,1653.1 671.0,1637.2 672.4,1617.4 C673.8,1597.6 675.3,1570.8 675.9,1557.9 C676.5,1545.0 676.1,1546.2 676.0,1540.0 C675.9,1533.8 676.1,1524.9 675.3,1521.0 C674.5,1517.1 671.8,1519.1 671.1,1516.8 C670.4,1514.5 670.4,1509.6 671.1,1507.0 C671.8,1504.4 673.4,1503.3 675.3,1501.4 C677.2,1499.5 679.7,1498.8 682.3,1495.8 C684.9,1492.8 688.6,1487.3 690.7,1483.1 C692.8,1478.9 694.0,1477.3 695.0,1470.5 C696.0,1463.7 696.2,1449.4 696.4,1442.4 C696.6,1435.4 697.1,1433.5 696.4,1428.3 C695.7,1423.1 693.8,1415.7 692.1,1411.5 C690.5,1407.3 688.6,1405.0 686.5,1403.0 C684.4,1401.0 681.6,1399.7 679.5,1399.5 C677.4,1399.3 675.6,1399.8 673.9,1401.6 C672.1,1403.4 669.6,1410.1 669.0,1410.1 C668.4,1410.1 669.8,1403.9 670.4,1401.6 C671.0,1399.2 671.2,1398.1 672.5,1396.0 C673.8,1393.9 676.1,1392.3 678.1,1389.0 C680.1,1385.7 683.9,1381.3 684.4,1376.4 C684.9,1371.5 680.3,1359.7 680.9,1359.5 C681.5,1359.3 686.3,1372.0 687.9,1375.0 C689.5,1378.0 689.1,1376.3 690.7,1377.8 C692.4,1379.3 695.2,1383.3 697.8,1384.1 C700.4,1384.9 703.9,1384.2 706.2,1382.7 C708.5,1381.2 710.2,1378.2 711.8,1375.0 C713.4,1371.8 714.6,1366.3 716.0,1363.7 C717.4,1361.1 719.0,1359.3 720.2,1359.5 C721.4,1359.7 721.1,1363.3 723.0,1365.1 C724.9,1366.8 728.5,1368.6 731.5,1370.0 C734.5,1371.4 737.1,1372.7 741.3,1373.5 C745.5,1374.3 752.3,1374.2 756.8,1375.0 C761.2,1375.8 768.0,1378.5 768.0,1378.5 C768.0,1378.5 768.0,1300.0 768.0,1300.0 Z" fill="#ffffff"/>
<path d="M624.0,1560.0 L623.0,1600.0 L627.0,1617.0 L632.0,1677.0" fill="none" stroke="#5fbde9" stroke-width="2" stroke-linejoin="round" />
<path d="M676.0,1560.0 L677.0,1600.0 L672.0,1617.0 L667.0,1677.0" fill="none" stroke="#5fbde9" stroke-width="2" stroke-linejoin="round" />
<rect x="648" y="1382" width="4" height="17" fill="#4858ae"/>
<path d="M632.0,1413.0 L632.0,1446.0" fill="none" stroke="#72d0c0" stroke-width="2.2" stroke-linejoin="round" />
<path d="M668.0,1413.0 L668.0,1446.0" fill="none" stroke="#72d0c0" stroke-width="2.2" stroke-linejoin="round" />
<path d="M632.0,1433.0 L641.0,1437.0 L632.0,1443.0 Z" fill="#72d0c0" />
<path d="M668.0,1433.0 L659.0,1437.0 L668.0,1443.0 Z" fill="#72d0c0" />
<path d="M648.0,1410.0 L648.0,1450.0 L652.0,1450.0 L652.0,1410.0" fill="none" stroke="#72d0c0" stroke-width="2.2" stroke-linejoin="round" />
<path d="M634.0,1465.0 L650.0,1453.0 L666.0,1465.0" fill="none" stroke="#72d0b0" stroke-width="3" stroke-linejoin="round" />
<rect x="648" y="1465" width="4" height="17" fill="#66c23a"/>
<ellipse cx="649.8" cy="1540" rx="7" ry="8" fill="#a8d840"/>
<rect x="647.5" y="1540" width="4.5" height="25" fill="#a8d840"/>
<path d="M645.0,1631.0 L654.0,1631.0 L654.0,1645.0 L658.0,1650.0 L654.0,1665.0 L652.0,1677.0 L647.0,1677.0 L645.0,1665.0 L641.0,1650.0 L645.0,1645.0 Z" fill="#f0a838" />
<path d="M636.0,1610.0 L645.0,1630.0" fill="none" stroke="#e6e832" stroke-width="2" stroke-linejoin="round" />
<path d="M663.0,1610.0 L654.0,1630.0" fill="none" stroke="#e6e832" stroke-width="2" stroke-linejoin="round" />
<rect x="648.2" y="1724" width="3.2" height="90" fill="#ec2a3a"/>
<path d="M560.4,1825.7 L739.6,1825.7 L739.6,1845.4 L560.4,1845.4 Z" fill="none" stroke="#fff" stroke-width="1.6"/>
<line x1="648.6" y1="1825.7" x2="648.6" y2="1845.4" stroke="#fff" stroke-width="1.6"/>
<path d="M560.4,2091.4 L739.6,2091.4 L739.6,2101.4 L560.4,2101.4 Z" fill="none" stroke="#fff" stroke-width="1.6"/>
<line x1="648.6" y1="2091.4" x2="648.6" y2="2101.4" stroke="#fff" stroke-width="1.6"/>
<ellipse cx="946" cy="1955" rx="15" ry="14" fill="#5571c2"/>
<ellipse cx="946" cy="1953" rx="10" ry="9" fill="#5fbde9"/>
<path d="M926.0,1820.0 L932.0,1805.0 L960.0,1805.0 L966.0,1820.0 L966.0,1845.0 L926.0,1845.0 Z" fill="#5571c2" />
<path d="M830.0,1300.0 C830.0,1300.0 830.0,1398.7 830.0,1398.7 C830.0,1398.7 833.9,1396.0 836.9,1394.5 C839.9,1393.0 844.5,1391.4 848.0,1389.7 C851.5,1388.0 855.1,1385.8 857.6,1384.2 C860.1,1382.6 861.7,1382.8 863.1,1380.0 C864.5,1377.2 864.5,1367.8 865.9,1367.6 C867.3,1367.4 869.8,1373.6 871.4,1378.7 C873.0,1383.8 874.2,1393.6 875.6,1398.0 C877.0,1402.4 878.1,1403.3 879.7,1404.9 C881.3,1406.5 882.0,1407.2 885.2,1407.7 C888.4,1408.2 895.8,1408.4 899.0,1407.7 C902.2,1407.0 903.2,1405.8 904.6,1403.5 C906.0,1401.2 906.8,1393.0 907.3,1393.9 C907.8,1394.8 906.4,1405.4 907.3,1409.0 C908.2,1412.6 910.8,1413.5 912.9,1415.3 C915.0,1417.1 917.7,1418.4 919.8,1420.1 C921.9,1421.8 924.1,1422.8 925.3,1425.6 C926.4,1428.4 926.9,1436.2 926.7,1436.7 C926.5,1437.2 925.8,1430.5 923.9,1428.4 C922.0,1426.3 918.4,1424.8 915.6,1424.2 C912.8,1423.6 910.1,1424.0 907.3,1424.9 C904.5,1425.8 901.1,1427.8 899.0,1429.8 C896.9,1431.8 896.0,1434.2 894.9,1436.7 C893.8,1439.2 892.7,1437.0 892.1,1445.0 C891.5,1453.0 891.5,1476.0 891.5,1485.0 C891.5,1494.0 890.9,1494.2 892.1,1498.8 C893.4,1503.4 896.5,1508.9 899.0,1512.6 C901.5,1516.3 904.3,1518.8 907.3,1520.9 C910.3,1523.0 914.7,1522.5 917.0,1525.0 C919.3,1527.5 920.0,1532.9 921.1,1536.1 C922.2,1539.3 925.3,1543.5 923.9,1544.4 C922.5,1545.3 915.0,1539.1 912.9,1541.6 C910.8,1544.1 911.7,1549.5 911.5,1559.6 C911.3,1569.7 911.3,1593.0 911.5,1602.4 C911.7,1611.8 912.2,1609.9 912.9,1616.2 C913.6,1622.5 914.4,1624.5 915.6,1640.0 C916.8,1655.5 916.9,1679.3 920.3,1709.0 C923.7,1738.7 932.8,1794.7 935.9,1818.0 C939.0,1841.3 939.0,1840.8 939.0,1849.1 C939.0,1857.4 936.9,1857.5 935.9,1867.9 C934.9,1878.3 932.3,1901.8 932.8,1911.7 C933.3,1921.6 934.9,1924.6 939.0,1927.2 C943.1,1929.8 954.9,1936.0 957.7,1927.2 C960.6,1918.4 956.9,1886.2 956.1,1874.3 C955.3,1862.4 953.2,1863.9 953.0,1855.6 C952.8,1847.3 952.3,1848.4 954.6,1824.5 C956.9,1800.6 963.8,1743.2 967.0,1712.4 C970.2,1681.7 972.0,1654.9 973.6,1640.0 C975.2,1625.1 975.5,1629.4 976.4,1623.1 C977.3,1616.8 978.7,1613.2 979.2,1602.4 C979.7,1591.6 981.3,1567.9 979.2,1558.2 C977.1,1548.5 968.6,1548.1 966.7,1544.4 C964.9,1540.7 967.2,1539.3 968.1,1536.1 C969.0,1532.9 970.4,1527.8 972.2,1525.0 C974.1,1522.2 976.7,1521.6 979.2,1519.5 C981.7,1517.4 984.6,1515.8 987.4,1512.6 C990.1,1509.4 993.9,1504.6 995.7,1500.2 C997.6,1495.8 998.5,1496.1 998.5,1486.4 C998.5,1476.7 997.3,1451.6 995.7,1442.2 C994.1,1432.8 992.0,1432.8 988.8,1429.8 C985.6,1426.8 979.8,1424.9 976.4,1424.2 C973.0,1423.5 970.0,1423.5 968.1,1425.6 C966.2,1427.7 965.3,1436.2 964.7,1436.7 C964.1,1437.2 964.1,1430.9 964.7,1428.4 C965.3,1425.9 966.2,1423.8 968.1,1421.5 C970.0,1419.2 974.1,1416.7 976.4,1414.6 C978.7,1412.5 981.0,1412.2 981.9,1409.0 C982.8,1405.8 981.7,1396.6 981.9,1395.2 C982.1,1393.8 981.9,1398.7 983.3,1400.8 C984.7,1402.9 986.5,1406.8 990.2,1407.7 C993.9,1408.6 1001.7,1407.7 1005.4,1406.3 C1009.1,1404.9 1010.2,1404.0 1012.3,1399.4 C1014.4,1394.8 1016.2,1383.8 1017.8,1378.7 C1019.4,1373.6 1020.6,1368.4 1022.0,1369.0 C1023.4,1369.6 1024.0,1379.0 1026.2,1382.2 C1028.5,1385.5 1029.5,1385.8 1035.5,1388.5 C1041.5,1391.2 1062.0,1398.7 1062.0,1398.7 C1062.0,1398.7 1062.0,1300.0 1062.0,1300.0 Z" fill="#ffffff"/>
<path d="M907,1388 Q925,1360 946,1362 Q968,1360 982,1394" fill="none" stroke="#4a64b8" stroke-width="2" stroke-dasharray="4 9"/>
<path d="M867.4,1366.7 L855.0,1356.0 L842.5,1352.7" fill="none" stroke="#4f7fcc" stroke-width="1.5" stroke-linejoin="round" stroke-dasharray="4 4"/>
<path d="M1020.0,1372.9 L1035.0,1358.0 L1048.0,1352.7" fill="none" stroke="#4f7fcc" stroke-width="1.5" stroke-linejoin="round" stroke-dasharray="4 4"/>
<path d="M914.0,1640.0 L916.0,1700.0 L933.0,1810.0" fill="none" stroke="#5fbde9" stroke-width="2.5" stroke-linejoin="round" />
<path d="M976.0,1640.0 L970.0,1710.0 L956.0,1810.0" fill="none" stroke="#5fbde9" stroke-width="2.5" stroke-linejoin="round" />
<rect x="944" y="1410" width="4" height="25" fill="#4858ae"/>
<rect x="944" y="1457" width="4" height="47" fill="#5fbde9"/>
<rect x="943" y="1591" width="4" height="15" fill="#66c23a"/>
<ellipse cx="945.5" cy="1692" rx="7" ry="8" fill="#a8d840"/>
<rect x="943.5" y="1692" width="4" height="20" fill="#a8d840"/>
<path d="M936.0,1796.0 L940.0,1810.0 L946.0,1800.0 L950.0,1810.0 L955.0,1796.0 L953.0,1830.0 L946.0,1843.0 L939.0,1830.0 Z" fill="#e6e030" />
<rect x="943.5" y="1921" width="4.5" height="34" fill="#f26b21"/>
<ellipse cx="945.5" cy="1955" rx="8" ry="5" fill="#66c23a"/>
<path d="M858.2,1833.2 L936.0,1833.2 L936.0,1853.0 L938.0,1855.4 L955.0,1855.4 L955.0,1833.2 L1033.2,1833.2 L1033.2,1852.9 L1012.0,1852.9 L1012.0,1855.4 L880.0,1855.4 L880.0,1852.9 L858.2,1852.9 Z" fill="none" stroke="#fff" stroke-width="1.6"/>
<path d="M858.2,2093.2 L1033.2,2093.2 L1033.2,2103.2 L858.2,2103.2 Z" fill="none" stroke="#fff" stroke-width="1.6"/>
<line x1="943.9" y1="2093.2" x2="943.9" y2="2103.2" stroke="#fff" stroke-width="1.6"/>
<ellipse cx="1228" cy="1992" rx="17" ry="15" fill="#5571c2"/>
<ellipse cx="1228" cy="1990" rx="11" ry="10" fill="#5fbde9"/>
<path d="M1203.0,1700.0 L1253.0,1700.0 L1258.0,1830.0 L1198.0,1830.0 Z" fill="#5571c2" />
<path d="M1209.0,1720.0 L1247.0,1720.0 L1250.0,1830.0 L1206.0,1830.0 Z" fill="#5fbde9" />
<path d="M1200.0,1820.0 L1222.0,1810.0 L1215.0,1832.0 L1198.0,1832.0 Z" fill="#5fbde9" />
<path d="M1256.0,1820.0 L1234.0,1810.0 L1240.0,1832.0 L1258.0,1832.0 Z" fill="#5fbde9" />
<path d="M1118.0,1300.0 C1118.0,1300.0 1118.0,1408.0 1118.0,1408.0 C1118.0,1408.0 1119.1,1405.2 1122.1,1403.2 C1125.1,1401.2 1132.0,1398.6 1135.9,1396.3 C1139.8,1394.0 1143.5,1391.5 1145.5,1389.4 C1147.5,1387.4 1147.3,1386.3 1148.2,1384.0 C1149.1,1381.7 1149.6,1374.6 1151.0,1375.7 C1152.4,1376.8 1155.1,1385.1 1156.5,1390.8 C1157.9,1396.5 1157.6,1405.8 1159.2,1410.0 C1160.8,1414.2 1163.8,1414.7 1166.1,1416.2 C1168.4,1417.7 1170.2,1418.7 1173.0,1419.0 C1175.8,1419.3 1180.1,1419.3 1182.6,1418.3 C1185.1,1417.3 1186.4,1414.9 1188.0,1412.8 C1189.6,1410.7 1191.4,1404.5 1192.2,1405.9 C1193.0,1407.3 1191.5,1417.7 1192.9,1421.0 C1194.3,1424.3 1198.1,1424.2 1200.4,1425.8 C1202.7,1427.4 1205.0,1428.2 1206.6,1430.6 C1208.2,1433.0 1209.4,1436.9 1210.0,1440.3 C1210.6,1443.7 1210.7,1452.1 1210.0,1451.2 C1209.3,1450.3 1208.4,1437.5 1205.9,1434.8 C1203.4,1432.1 1198.8,1434.1 1194.9,1434.8 C1191.0,1435.5 1185.8,1436.4 1182.6,1438.9 C1179.4,1441.4 1177.3,1446.7 1175.7,1449.9 C1174.1,1453.1 1173.4,1448.7 1172.9,1458.1 C1172.4,1467.5 1172.0,1496.1 1172.9,1506.2 C1173.8,1516.3 1176.1,1515.1 1178.4,1518.5 C1180.7,1521.9 1183.5,1524.5 1186.7,1526.8 C1189.9,1529.1 1195.2,1529.1 1197.7,1532.3 C1200.2,1535.5 1200.2,1541.9 1201.8,1546.0 C1203.4,1550.1 1208.4,1552.9 1207.3,1557.0 C1206.2,1561.1 1197.2,1568.2 1194.9,1570.7 C1192.6,1573.2 1193.8,1560.8 1193.5,1572.1 C1193.2,1583.4 1191.5,1624.3 1193.0,1638.4 C1194.5,1652.5 1200.1,1642.7 1202.2,1656.7 C1204.3,1670.7 1204.0,1693.3 1205.8,1722.6 C1207.6,1751.9 1212.0,1808.0 1213.2,1832.4 C1214.4,1856.8 1212.9,1850.7 1213.2,1869.0 C1213.5,1887.3 1213.8,1920.9 1215.0,1942.3 C1216.2,1963.7 1217.2,1988.0 1220.5,1997.2 C1223.8,2006.4 1231.8,2006.4 1235.1,1997.2 C1238.4,1988.0 1239.4,1963.7 1240.6,1942.3 C1241.8,1920.9 1242.2,1887.3 1242.5,1869.0 C1242.8,1850.7 1241.3,1856.8 1242.5,1832.4 C1243.7,1808.0 1248.0,1751.9 1249.8,1722.6 C1251.6,1693.3 1250.9,1670.7 1253.4,1656.7 C1255.9,1642.7 1263.1,1652.5 1265.0,1638.4 C1266.9,1624.3 1265.5,1583.6 1265.0,1572.1 C1264.5,1560.6 1264.7,1571.7 1262.2,1569.4 C1259.7,1567.1 1251.0,1562.3 1249.8,1558.4 C1248.6,1554.5 1253.7,1550.3 1255.3,1546.0 C1256.9,1541.7 1257.0,1535.5 1259.5,1532.3 C1262.0,1529.1 1267.1,1530.0 1270.5,1526.8 C1273.9,1523.6 1277.7,1516.4 1280.1,1513.0 C1282.5,1509.6 1284.1,1515.4 1284.9,1506.2 C1285.7,1497.0 1285.5,1467.7 1284.9,1458.1 C1284.3,1448.5 1283.1,1451.9 1281.4,1448.5 C1279.7,1445.1 1277.6,1439.8 1274.6,1437.5 C1271.6,1435.2 1267.3,1435.0 1263.6,1434.8 C1259.9,1434.6 1255.2,1433.4 1252.6,1436.1 C1250.0,1438.8 1248.7,1450.3 1247.8,1451.2 C1246.9,1452.1 1246.8,1444.8 1247.1,1441.6 C1247.4,1438.4 1248.4,1434.5 1249.8,1432.0 C1251.2,1429.5 1253.0,1428.3 1255.3,1426.5 C1257.6,1424.7 1261.9,1424.7 1263.6,1421.0 C1265.3,1417.3 1264.9,1406.2 1265.6,1404.6 C1266.3,1403.0 1266.2,1409.2 1267.7,1411.4 C1269.2,1413.6 1272.1,1416.3 1274.6,1417.6 C1277.1,1418.9 1280.0,1419.2 1282.8,1419.0 C1285.5,1418.8 1288.6,1417.9 1291.1,1416.2 C1293.6,1414.5 1296.3,1412.7 1297.9,1408.7 C1299.5,1404.7 1299.3,1397.7 1300.7,1392.2 C1302.1,1386.7 1304.8,1376.6 1306.2,1375.7 C1307.6,1374.8 1306.6,1383.5 1308.9,1386.7 C1311.2,1389.9 1315.3,1392.2 1319.9,1394.9 C1324.5,1397.7 1332.7,1401.0 1336.4,1403.2 C1340.1,1405.4 1342.0,1408.0 1342.0,1408.0 C1342.0,1408.0 1342.0,1300.0 1342.0,1300.0 Z" fill="#ffffff"/>
<path d="M1193,1393 Q1205,1370 1228,1366 Q1252,1370 1264,1393" fill="none" stroke="#4a64b8" stroke-width="2" stroke-dasharray="4 9"/>
<ellipse cx="1228" cy="1366" rx="7" ry="4" fill="#4858ae"/>
<path d="M1152.8,1367.6 L1138.0,1358.0 L1118.0,1356.6" fill="none" stroke="#4f7fcc" stroke-width="1.5" stroke-linejoin="round" stroke-dasharray="4 4"/>
<path d="M1306.5,1378.6 L1321.0,1363.9 L1341.3,1356.6" fill="none" stroke="#4f7fcc" stroke-width="1.5" stroke-linejoin="round" stroke-dasharray="4 4"/>
<rect x="1226" y="1425" width="4" height="20" fill="#4858ae"/>
<rect x="1226" y="1475" width="4" height="40" fill="#5fbde9"/>
<ellipse cx="1228" cy="1750" rx="7" ry="7" fill="#a8d840"/>
<rect x="1226" y="1750" width="4" height="20" fill="#a8d840"/>
<ellipse cx="1228" cy="1878" rx="8" ry="13" fill="#a8d840"/>
<rect x="1226.5" y="1985" width="3.5" height="8" fill="#f26b21"/>
<path d="M1144.5,1831.4 L1212.0,1831.4 L1212.0,1853.7 L1144.5,1853.7 Z" fill="none" stroke="#fff" stroke-width="1.6"/>
<path d="M1244.0,1831.4 L1313.5,1831.4 L1313.5,1853.7 L1244.0,1853.7 Z" fill="none" stroke="#fff" stroke-width="1.6"/>
<path d="M1144.5,2084.9 L1313.5,2084.9 L1313.5,2095.4 L1144.5,2095.4 Z" fill="none" stroke="#fff" stroke-width="1.6"/>
<line x1="1227.7" y1="2084.9" x2="1227.7" y2="2095.4" stroke="#fff" stroke-width="1.6"/>
<path d="M1478.0,1670.0 L1535.0,1670.0 L1532.0,1835.0 L1480.0,1835.0 Z" fill="#5571c2" />
<path d="M1484.0,1890.0 L1528.0,1890.0 L1534.0,2000.0 L1522.0,2070.0 L1490.0,2070.0 L1478.0,2000.0 Z" fill="#5fbde9" />
<path d="M1395.0,1300.0 C1395.0,1300.0 1395.0,1413.0 1395.0,1413.0 C1395.0,1413.0 1400.5,1408.0 1403.7,1405.2 C1406.9,1402.5 1411.8,1399.7 1414.1,1396.5 C1416.4,1393.3 1417.0,1390.1 1417.6,1386.1 C1418.2,1382.0 1416.4,1371.9 1417.6,1372.2 C1418.8,1372.5 1423.0,1381.4 1424.6,1387.8 C1426.2,1394.2 1425.8,1404.9 1427.2,1410.4 C1428.7,1415.9 1430.5,1417.9 1433.3,1420.9 C1436.0,1424.0 1439.7,1427.4 1443.7,1428.7 C1447.8,1430.0 1454.1,1430.0 1457.6,1428.7 C1461.1,1427.4 1463.1,1423.4 1464.6,1420.9 C1466.0,1418.4 1465.7,1413.3 1466.3,1413.9 C1466.9,1414.5 1466.8,1420.2 1468.0,1424.3 C1469.2,1428.4 1471.0,1434.5 1473.3,1438.3 C1475.6,1442.1 1479.7,1443.5 1482.0,1447.0 C1484.3,1450.5 1486.2,1454.2 1487.2,1459.1 C1488.2,1464.0 1488.6,1477.1 1488.0,1476.5 C1487.4,1475.9 1486.5,1461.2 1483.7,1455.7 C1481.0,1450.2 1475.3,1445.8 1471.5,1443.5 C1467.7,1441.2 1464.6,1441.1 1461.1,1441.7 C1457.6,1442.3 1453.6,1444.4 1450.7,1447.0 C1447.8,1449.6 1445.3,1454.5 1443.7,1457.4 C1442.1,1460.3 1441.8,1457.3 1441.1,1464.3 C1440.4,1471.2 1439.4,1490.4 1439.3,1499.1 C1439.2,1507.8 1438.9,1511.6 1440.2,1516.5 C1441.5,1521.4 1444.0,1524.9 1447.2,1528.7 C1450.4,1532.5 1455.2,1536.2 1459.3,1539.1 C1463.3,1542.0 1468.9,1542.0 1471.5,1546.1 C1474.1,1550.2 1476.2,1557.1 1475.0,1563.5 C1473.8,1569.9 1466.6,1577.9 1464.6,1584.3 C1462.6,1590.7 1463.4,1597.0 1462.8,1601.7 C1462.2,1606.4 1460.8,1607.0 1461.1,1612.2 C1461.4,1617.4 1464.6,1628.1 1464.6,1633.0 C1464.6,1637.9 1460.2,1637.9 1461.1,1641.7 C1462.0,1645.5 1466.3,1651.4 1469.8,1655.7 C1473.3,1660.0 1479.7,1660.4 1482.0,1667.8 C1484.3,1675.2 1483.6,1687.8 1483.7,1700.0 C1483.8,1712.2 1482.3,1717.6 1482.8,1740.9 C1483.3,1764.2 1485.0,1820.3 1486.5,1839.8 C1488.0,1859.3 1492.0,1851.3 1492.0,1858.0 C1492.0,1864.7 1488.0,1872.1 1486.5,1880.0 C1485.0,1887.9 1481.6,1895.2 1482.8,1905.6 C1484.0,1916.0 1492.6,1924.0 1493.8,1942.3 C1495.0,1960.6 1489.6,1993.5 1490.2,2015.5 C1490.8,2037.5 1493.2,2064.2 1497.5,2074.0 C1501.8,2083.8 1511.8,2083.8 1515.8,2074.0 C1519.8,2064.2 1520.7,2037.5 1521.3,2015.5 C1521.9,1993.5 1517.9,1960.6 1519.4,1942.3 C1520.9,1924.0 1529.2,1916.0 1530.4,1905.6 C1531.6,1895.2 1528.6,1887.9 1526.8,1880.0 C1525.0,1872.1 1520.0,1864.7 1519.4,1858.0 C1518.8,1851.3 1521.9,1859.3 1523.1,1839.8 C1524.3,1820.3 1525.8,1764.2 1526.8,1740.9 C1527.8,1717.6 1528.2,1712.2 1528.9,1700.0 C1529.6,1687.8 1528.7,1674.3 1530.7,1667.8 C1532.7,1661.3 1537.6,1665.2 1541.1,1660.9 C1544.6,1656.6 1550.3,1646.4 1551.5,1641.7 C1552.7,1637.0 1547.7,1637.9 1548.0,1633.0 C1548.3,1628.1 1552.7,1617.4 1553.3,1612.2 C1553.9,1607.0 1552.4,1606.9 1551.5,1601.7 C1550.6,1596.5 1550.3,1587.3 1548.0,1580.9 C1545.7,1574.5 1538.5,1569.3 1537.6,1563.5 C1536.7,1557.7 1539.6,1550.4 1542.8,1546.1 C1546.0,1541.8 1552.6,1540.9 1556.7,1537.4 C1560.8,1533.9 1564.4,1529.6 1567.2,1525.2 C1570.0,1520.8 1572.4,1518.0 1573.3,1511.3 C1574.2,1504.6 1572.8,1493.9 1572.4,1485.2 C1572.0,1476.5 1572.2,1465.5 1570.7,1459.1 C1569.2,1452.7 1566.9,1449.9 1563.7,1447.0 C1560.5,1444.1 1555.6,1442.3 1551.5,1441.7 C1547.4,1441.1 1543.1,1441.5 1539.3,1443.5 C1535.5,1445.5 1531.2,1448.4 1528.9,1453.9 C1526.6,1459.4 1526.0,1475.6 1525.4,1476.5 C1524.8,1477.4 1524.8,1464.0 1525.4,1459.1 C1526.0,1454.2 1526.9,1450.2 1528.9,1447.0 C1530.9,1443.8 1535.1,1443.2 1537.6,1440.0 C1540.1,1436.8 1542.4,1432.1 1543.7,1427.8 C1545.0,1423.5 1545.0,1415.6 1545.4,1413.9 C1545.8,1412.2 1545.3,1415.1 1546.3,1417.4 C1547.3,1419.7 1548.6,1425.8 1551.5,1427.8 C1554.4,1429.8 1559.6,1430.2 1563.7,1429.6 C1567.8,1429.0 1572.4,1427.5 1575.9,1424.3 C1579.4,1421.1 1582.6,1415.6 1584.6,1410.4 C1586.6,1405.2 1586.0,1400.0 1588.0,1393.0 C1590.0,1386.0 1595.8,1369.9 1596.7,1368.7 C1597.6,1367.5 1592.7,1381.5 1593.3,1386.1 C1593.9,1390.7 1597.3,1393.3 1600.2,1396.5 C1603.1,1399.7 1607.6,1402.5 1610.7,1405.2 C1613.8,1408.0 1619.0,1413.0 1619.0,1413.0 C1619.0,1413.0 1619.0,1300.0 1619.0,1300.0 Z" fill="#ffffff"/>
<path d="M1468,1400 Q1480,1372 1507,1370 Q1534,1372 1545,1400" fill="none" stroke="#4a64b8" stroke-width="2" stroke-dasharray="4 9"/>
<path d="M1501.0,1389.0 L1506.6,1329.0 L1512.0,1389.0 Z" fill="#4a64b8" />
<path d="M1420.6,1374.9 L1410.0,1360.0 L1398.7,1352.9" fill="none" stroke="#4f7fcc" stroke-width="1.5" stroke-linejoin="round" />
<path d="M1603.6,1360.3 L1614.6,1352.9" fill="none" stroke="#4f7fcc" stroke-width="1.5" stroke-linejoin="round" />
<rect x="1505" y="1410" width="3" height="40" fill="#4858ae"/>
<rect x="1505" y="1520" width="3.5" height="75" fill="#5fc0c8"/>
<ellipse cx="1507" cy="1928" rx="9" ry="13" fill="#a8d840"/>
<ellipse cx="1507" cy="1977" rx="8" ry="11" fill="#66c23a"/>
<ellipse cx="1507" cy="2036" rx="9" ry="26" fill="#a8d840"/>
<path d="M1421.0,1836.0 L1487.0,1836.0 L1487.0,1856.0 L1421.0,1856.0 Z" fill="none" stroke="#fff" stroke-width="1.6"/>
<path d="M1526.0,1836.0 L1592.5,1836.0 L1592.5,1857.6 L1526.0,1857.6 Z" fill="none" stroke="#fff" stroke-width="1.6"/>
<path d="M1421.0,2084.9 L1592.5,2084.9 L1592.5,2095.4 L1421.0,2095.4 Z" fill="none" stroke="#fff" stroke-width="1.6"/>
<line x1="1507.3" y1="2084.9" x2="1507.3" y2="2095.4" stroke="#fff" stroke-width="1.6"/>
<ellipse cx="1796" cy="2170" rx="38" ry="65" fill="#5571c2"/>
<ellipse cx="1793" cy="2176" rx="31" ry="44" fill="#5fbde9"/>
<ellipse cx="1797" cy="2210" rx="16" ry="12" fill="#6cc85a"/>
<path d="M1757.0,1860.0 L1768.0,1850.0 L1825.0,1850.0 L1835.0,1860.0 L1835.0,1920.0 L1757.0,1920.0 Z" fill="#5fbde9" />
<path d="M1683.0,1300.0 C1683.0,1300.0 1683.0,1400.5 1683.0,1400.5 C1683.0,1400.5 1686.4,1396.5 1688.5,1393.2 C1690.6,1389.9 1694.3,1385.0 1695.8,1380.4 C1697.3,1375.8 1696.7,1365.7 1697.6,1365.7 C1698.5,1365.7 1700.1,1375.2 1701.3,1380.4 C1702.5,1385.6 1703.5,1391.7 1705.0,1396.9 C1706.5,1402.1 1708.0,1407.5 1710.4,1411.5 C1712.8,1415.5 1716.2,1418.2 1719.6,1420.6 C1723.0,1423.0 1727.2,1425.3 1730.6,1426.1 C1733.9,1426.9 1737.0,1426.4 1739.7,1425.2 C1742.4,1424.0 1745.5,1420.6 1747.0,1418.8 C1748.5,1417.0 1748.0,1413.0 1748.9,1414.2 C1749.8,1415.4 1751.0,1421.1 1752.5,1426.1 C1754.0,1431.1 1755.5,1440.1 1758.0,1444.4 C1760.5,1448.7 1764.8,1448.4 1767.2,1451.8 C1769.7,1455.2 1771.2,1460.3 1772.7,1464.6 C1774.2,1468.9 1776.6,1478.0 1776.3,1477.4 C1776.0,1476.8 1773.5,1465.2 1770.8,1460.9 C1768.1,1456.6 1763.2,1455.8 1759.9,1451.8 C1756.6,1447.8 1754.1,1440.0 1750.7,1437.1 C1747.3,1434.2 1743.7,1434.1 1739.7,1434.4 C1735.7,1434.7 1730.6,1436.3 1726.9,1438.9 C1723.2,1441.5 1719.8,1445.9 1717.8,1449.9 C1715.8,1453.9 1715.9,1456.9 1715.0,1462.7 C1714.1,1468.5 1712.8,1477.4 1712.3,1484.7 C1711.8,1492.0 1711.1,1500.6 1712.3,1506.7 C1713.5,1512.8 1716.2,1516.1 1719.6,1521.3 C1722.9,1526.5 1727.8,1533.5 1732.4,1537.8 C1737.0,1542.1 1743.8,1543.6 1747.0,1546.9 C1750.2,1550.2 1752.2,1553.9 1751.6,1557.9 C1751.0,1561.9 1744.8,1565.8 1743.4,1570.7 C1742.0,1575.6 1744.3,1583.5 1743.4,1587.2 C1742.5,1590.9 1738.8,1588.1 1737.9,1592.7 C1737.0,1597.3 1736.4,1610.0 1737.9,1614.6 C1739.4,1619.2 1746.1,1616.7 1747.0,1620.1 C1747.9,1623.5 1744.0,1629.0 1743.4,1634.8 C1742.8,1640.6 1741.9,1649.7 1743.4,1654.9 C1744.9,1660.1 1749.2,1662.2 1752.5,1665.9 C1755.8,1669.6 1761.0,1672.2 1763.5,1676.8 C1766.0,1681.4 1766.1,1684.1 1767.2,1693.3 C1768.3,1702.5 1768.7,1711.6 1769.9,1731.7 C1771.1,1751.8 1773.5,1797.3 1774.5,1814.0 C1775.5,1830.7 1778.1,1824.7 1776.0,1832.0 C1773.9,1839.3 1765.1,1850.0 1762.0,1858.0 C1758.9,1866.0 1757.0,1869.7 1757.5,1880.0 C1758.0,1890.3 1763.8,1896.7 1765.0,1920.0 C1766.2,1943.3 1763.4,1996.5 1765.0,2020.0 C1766.6,2043.5 1772.0,2051.0 1774.5,2061.0 C1777.0,2071.0 1778.9,2056.0 1780.0,2080.0 C1781.1,2104.0 1775.2,2184.2 1781.0,2205.0 C1786.8,2225.8 1809.5,2225.8 1815.0,2205.0 C1820.5,2184.2 1813.1,2104.0 1814.0,2080.0 C1814.9,2056.0 1818.2,2071.0 1820.2,2061.0 C1822.2,2051.0 1825.0,2043.5 1826.0,2020.0 C1827.0,1996.5 1825.1,1943.3 1826.0,1920.0 C1826.9,1896.7 1830.9,1890.3 1831.2,1880.0 C1831.6,1869.7 1830.2,1866.0 1828.0,1858.0 C1825.8,1850.0 1819.3,1839.3 1818.0,1832.0 C1816.7,1824.7 1819.2,1832.7 1820.2,1814.0 C1821.2,1795.3 1823.3,1739.9 1823.9,1719.8 C1824.5,1699.7 1824.2,1700.1 1823.9,1693.3 C1823.6,1686.5 1821.8,1682.7 1822.1,1678.7 C1822.4,1674.7 1822.0,1673.8 1825.7,1669.5 C1829.4,1665.2 1841.0,1660.9 1844.0,1653.0 C1847.0,1645.1 1843.1,1628.1 1844.0,1622.0 C1844.9,1615.9 1848.3,1620.8 1849.5,1616.5 C1850.7,1612.2 1852.3,1601.8 1851.4,1596.3 C1850.5,1590.8 1844.9,1587.8 1844.0,1583.5 C1843.1,1579.2 1847.0,1574.0 1845.9,1570.7 C1844.8,1567.4 1838.8,1567.1 1837.6,1563.4 C1836.4,1559.7 1835.9,1552.7 1838.5,1548.7 C1841.1,1544.7 1848.3,1543.9 1853.2,1539.6 C1858.1,1535.3 1864.2,1528.3 1867.8,1523.1 C1871.4,1517.9 1873.9,1514.9 1875.1,1508.5 C1876.3,1502.1 1875.4,1494.2 1875.1,1484.7 C1874.8,1475.2 1874.8,1459.4 1873.3,1451.8 C1871.8,1444.2 1869.7,1441.8 1866.0,1438.9 C1862.3,1436.0 1856.3,1434.7 1851.4,1434.4 C1846.5,1434.1 1840.1,1434.8 1836.7,1437.1 C1833.3,1439.4 1834.0,1444.4 1831.2,1448.1 C1828.5,1451.8 1822.6,1454.2 1820.2,1459.1 C1817.8,1464.0 1816.9,1476.5 1816.6,1477.4 C1816.3,1478.3 1817.2,1468.9 1818.4,1464.6 C1819.6,1460.3 1821.5,1455.2 1823.9,1451.8 C1826.4,1448.4 1831.0,1448.7 1833.1,1444.4 C1835.2,1440.1 1835.5,1431.0 1836.7,1426.1 C1837.9,1421.2 1838.9,1415.8 1840.4,1415.2 C1841.9,1414.6 1843.5,1420.7 1845.9,1422.5 C1848.3,1424.3 1851.7,1426.1 1855.0,1426.1 C1858.3,1426.1 1862.3,1424.6 1866.0,1422.5 C1869.7,1420.4 1874.0,1417.3 1877.0,1413.3 C1880.0,1409.3 1882.8,1404.8 1884.3,1398.7 C1885.8,1392.6 1884.9,1382.2 1886.1,1376.7 C1887.3,1371.2 1890.4,1365.4 1891.6,1365.7 C1892.8,1366.0 1891.6,1374.0 1893.4,1378.6 C1895.2,1383.2 1900.0,1389.2 1902.6,1393.2 C1905.2,1397.2 1909.0,1402.3 1909.0,1402.3 C1909.0,1402.3 1909.0,1300.0 1909.0,1300.0 Z" fill="#ffffff"/>
<path d="M1751,1412 Q1770,1355 1795,1352 Q1822,1355 1840,1412" fill="none" stroke="#4a64b8" stroke-width="1.8" stroke-dasharray="3 12"/>
<path d="M1791.0,1385.0 L1795.0,1350.0 L1799.0,1385.0 Z" fill="#4a64b8" />
<path d="M1722.0,1823.0 L1735.0,1800.0 L1749.0,1823.0 Z" fill="#ffffff" />
<path d="M1838.5,1823.0 L1852.0,1800.0 L1866.0,1823.0 Z" fill="#ffffff" />
<path d="M1775.0,1836.0 L1815.0,1836.0 L1800.0,1860.0 L1790.0,1860.0 Z" fill="#4a64b8" />
<rect x="1794" y="1530" width="3" height="115" fill="#72c8c8"/>
<path d="M1710.0,1834.4 L1772.0,1834.4 L1772.0,1853.5 L1710.0,1853.5 Z" fill="none" stroke="#fff" stroke-width="1.6"/>
<path d="M1822.0,1834.4 L1878.8,1834.4 L1878.8,1853.5 L1822.0,1853.5 Z" fill="none" stroke="#fff" stroke-width="1.6"/>
<path d="M1710.0,2080.6 L1880.6,2080.6 L1880.6,2092.5 L1710.0,2092.5 Z" fill="none" stroke="#fff" stroke-width="1.6"/>
<ellipse cx="1797" cy="2150" rx="8" ry="10" fill="#a8d840"/>
<rect x="1778.2" y="1831.3" width="4" height="138.10000000000014" fill="#f0a830"/>
<rect x="1810.5" y="1836" width="4" height="133.4000000000001" fill="#f0a830"/>
<rect x="1728.75" y="1944.1" width="51.450000000000045" height="3" fill="#f0a830"/>
<rect x="1812.5" y="1944.1" width="48.09999999999991" height="3" fill="#f0a830"/>
<rect x="1780.2" y="1944.1" width="32.299999999999955" height="3" fill="#f0a830"/>
<path d="M1778.2,1945.6 L1760.2,1940.1 L1760.2,1951.1 Z" fill="#f0a830" />
<path d="M1814.5,1945.6 L1832.5,1940.1 L1832.5,1951.1 Z" fill="#f0a830" />
<rect x="1780.8" y="2080.6" width="4" height="133.4000000000001" fill="#f0a830"/>
<rect x="1810.2" y="2082.5" width="4" height="131.5" fill="#f0a830"/>
<rect x="1732.5" y="2182.9" width="50.299999999999955" height="3" fill="#f0a830"/>
<rect x="1812.2" y="2182.9" width="48.399999999999864" height="3" fill="#f0a830"/>
<rect x="1782.8" y="2182.9" width="29.40000000000009" height="3" fill="#f0a830"/>
<path d="M1780.8,2184.4 L1762.8,2178.9 L1762.8,2189.9 Z" fill="#f0a830" />
<path d="M1814.2,2184.4 L1832.2,2178.9 L1832.2,2189.9 Z" fill="#f0a830" />
<text x="1696.4" y="2010.6" font-size="55.5" fill="#f0a830" >3.60 cm</text>
<text x="1698" y="2267.5" font-size="55.5" fill="#f0a830" >2.35 cm</text>
<ellipse cx="2073" cy="2190" rx="45" ry="90" fill="#5571c2"/>
<ellipse cx="2073" cy="2195" rx="36" ry="75" fill="#5fbde9"/>
<ellipse cx="2073" cy="2230" rx="24" ry="40" fill="#72d0d2"/>
<path d="M2033.0,1860.0 L2113.0,1860.0 L2118.0,1960.0 L2028.0,1960.0 Z" fill="#5fbde9" />
<path d="M1965.0,1300.0 C1965.0,1300.0 1965.0,1406.0 1965.0,1406.0 C1965.0,1406.0 1970.5,1398.4 1972.3,1393.2 C1974.1,1388.0 1975.4,1379.5 1976.0,1374.9 C1976.6,1370.3 1975.5,1362.8 1976.0,1365.8 C1976.5,1368.8 1978.1,1385.6 1978.7,1393.2 C1979.3,1400.8 1978.2,1406.9 1979.6,1411.5 C1981.0,1416.1 1984.2,1417.6 1987.0,1420.7 C1989.8,1423.8 1992.8,1426.9 1996.1,1429.9 C1999.4,1433.0 2003.4,1437.3 2007.1,1439.0 C2010.8,1440.7 2015.3,1440.2 2018.1,1439.9 C2020.8,1439.6 2022.4,1439.2 2023.6,1437.2 C2024.8,1435.2 2024.2,1427.7 2025.4,1428.0 C2026.6,1428.3 2029.1,1434.4 2030.9,1439.0 C2032.7,1443.6 2034.6,1450.3 2036.4,1455.5 C2038.2,1460.7 2039.8,1466.8 2041.9,1470.1 C2044.0,1473.4 2047.7,1473.4 2049.2,1475.6 C2050.7,1477.8 2051.7,1483.6 2051.1,1483.0 C2050.5,1482.4 2048.3,1476.0 2045.6,1472.0 C2042.8,1468.0 2038.0,1463.5 2034.6,1459.2 C2031.2,1454.9 2029.4,1448.8 2025.4,1446.3 C2021.4,1443.8 2015.7,1443.9 2010.8,1444.5 C2005.9,1445.1 1999.8,1447.2 1996.1,1450.0 C1992.4,1452.8 1990.3,1456.7 1988.8,1461.0 C1987.3,1465.3 1987.6,1468.6 1987.0,1475.6 C1986.4,1482.6 1985.4,1496.7 1985.1,1503.1 C1984.8,1509.5 1984.2,1509.8 1985.1,1514.1 C1986.0,1518.4 1987.8,1523.2 1990.6,1528.7 C1993.3,1534.2 1997.6,1542.7 2001.6,1547.0 C2005.6,1551.3 2010.4,1552.0 2014.4,1554.4 C2018.4,1556.9 2023.2,1558.1 2025.4,1561.7 C2027.6,1565.3 2027.6,1572.6 2027.3,1576.3 C2027.0,1580.0 2025.4,1582.2 2023.6,1583.7 C2021.8,1585.2 2016.9,1582.5 2016.3,1585.5 C2015.7,1588.5 2020.5,1598.7 2019.9,1602.0 C2019.3,1605.3 2014.1,1603.2 2012.6,1605.6 C2011.1,1608.0 2009.6,1612.3 2010.8,1616.6 C2012.0,1620.9 2019.0,1627.0 2019.9,1631.3 C2020.8,1635.6 2016.9,1637.4 2016.3,1642.3 C2015.7,1647.2 2014.8,1655.7 2016.3,1660.6 C2017.8,1665.5 2021.8,1668.1 2025.4,1671.6 C2029.1,1675.1 2035.3,1671.5 2038.2,1681.5 C2041.1,1691.5 2041.7,1715.8 2042.8,1731.8 C2043.9,1747.8 2042.7,1761.6 2045.0,1777.6 C2047.3,1793.6 2054.7,1814.6 2056.5,1828.0 C2058.3,1841.4 2059.8,1852.7 2056.0,1858.0 C2052.2,1863.3 2037.7,1850.5 2033.6,1860.0 C2029.5,1869.5 2031.7,1898.0 2031.3,1914.8 C2030.9,1931.6 2030.9,1937.7 2031.3,1960.6 C2031.7,1983.5 2030.5,2032.2 2033.6,2052.0 C2036.6,2071.8 2046.0,2073.3 2049.6,2079.6 C2053.2,2085.9 2053.1,2087.0 2055.0,2090.0 C2056.9,2093.0 2061.6,2081.2 2061.1,2097.8 C2060.6,2114.4 2052.8,2162.7 2052.0,2189.4 C2051.2,2216.1 2052.7,2244.3 2056.5,2258.0 C2060.3,2271.7 2068.7,2271.7 2074.8,2271.7 C2080.9,2271.7 2089.3,2271.7 2093.1,2258.0 C2096.9,2244.3 2098.5,2216.1 2097.7,2189.4 C2096.9,2162.7 2088.9,2114.4 2088.5,2097.8 C2088.1,2081.2 2092.7,2093.0 2095.0,2090.0 C2097.3,2087.0 2098.8,2085.9 2102.3,2079.6 C2105.8,2073.3 2113.7,2071.8 2116.0,2052.0 C2118.3,2032.2 2116.0,1983.5 2116.0,1960.6 C2116.0,1937.7 2116.4,1931.6 2116.0,1914.8 C2115.6,1898.0 2117.7,1869.5 2113.7,1860.0 C2109.7,1850.5 2095.4,1863.3 2092.0,1858.0 C2088.6,1852.7 2091.4,1841.4 2093.1,1828.0 C2094.8,1814.6 2100.8,1793.6 2102.3,1777.6 C2103.8,1761.6 2100.8,1747.8 2102.3,1731.8 C2103.8,1715.8 2109.0,1690.3 2111.4,1681.5 C2113.8,1672.7 2113.9,1682.4 2117.0,1678.9 C2120.1,1675.4 2127.7,1668.5 2129.8,1660.6 C2131.9,1652.7 2128.6,1639.2 2129.8,1631.3 C2131.0,1623.4 2136.5,1617.9 2137.1,1613.0 C2137.7,1608.1 2134.4,1606.6 2133.5,1602.0 C2132.6,1597.4 2133.1,1588.2 2131.6,1585.5 C2130.1,1582.8 2126.1,1587.0 2124.3,1585.5 C2122.5,1584.0 2120.9,1580.3 2120.6,1576.3 C2120.3,1572.3 2120.3,1565.0 2122.5,1561.7 C2124.7,1558.4 2129.5,1559.0 2133.5,1556.2 C2137.5,1553.5 2142.3,1549.8 2146.3,1545.2 C2150.3,1540.6 2154.6,1533.9 2157.3,1528.7 C2160.0,1523.5 2162.1,1522.9 2162.7,1514.1 C2163.3,1505.2 2161.8,1484.4 2160.9,1475.6 C2160.0,1466.8 2159.4,1465.6 2157.3,1461.0 C2155.2,1456.4 2152.1,1451.0 2148.1,1448.2 C2144.1,1445.5 2138.7,1444.8 2133.5,1444.5 C2128.3,1444.2 2121.0,1443.8 2117.0,1446.3 C2113.0,1448.8 2112.8,1454.6 2109.7,1459.2 C2106.6,1463.8 2100.8,1470.2 2098.7,1473.8 C2096.5,1477.4 2095.9,1481.7 2096.8,1481.1 C2097.7,1480.5 2101.4,1474.1 2104.2,1470.1 C2106.9,1466.1 2110.6,1462.5 2113.3,1457.3 C2116.0,1452.1 2119.1,1443.9 2120.6,1439.0 C2122.1,1434.1 2121.6,1428.3 2122.5,1428.0 C2123.4,1427.7 2124.3,1435.1 2126.1,1437.2 C2127.9,1439.3 2130.4,1440.5 2133.5,1440.8 C2136.6,1441.1 2140.8,1440.8 2144.4,1439.0 C2148.1,1437.2 2151.7,1433.9 2155.4,1429.9 C2159.1,1425.9 2164.6,1421.9 2166.4,1415.2 C2168.2,1408.5 2165.2,1395.7 2166.4,1389.6 C2167.6,1383.5 2171.9,1378.0 2173.7,1378.6 C2175.5,1379.2 2175.6,1388.0 2177.4,1393.2 C2179.2,1398.4 2184.7,1409.7 2184.7,1409.7 C2184.7,1409.7 2186.0,1300.0 2186.0,1300.0 Z" fill="#ffffff"/>
<rect x="2071.5" y="1340" width="3.5" height="65" fill="#4a64b8"/>
<ellipse cx="2073.4" cy="1347" rx="5" ry="5" fill="#4a64b8"/>
<path d="M1992.5,1823.0 L2008.0,1800.0 L2024.5,1823.0 Z" fill="#ffffff" />
<path d="M2122.9,1823.0 L2139.0,1800.0 L2154.9,1823.0 Z" fill="#ffffff" />
<rect x="2072" y="1600" width="3" height="200" fill="#72c8c8"/>
<path d="M2062.0,1840.0 L2085.0,1840.0 L2074.0,1870.0 Z" fill="#5fbde9" />
<ellipse cx="2073.4" cy="2276" rx="8" ry="8" fill="#7cc832"/>
<path d="M2062.0,2075.0 L2086.0,2075.0 L2084.0,2095.0 L2064.0,2095.0 Z" fill="#ec2a3a" />
<path d="M1992.0,1839.3 L2058.0,1839.3 L2058.0,1857.6 L1992.0,1857.6 Z" fill="none" stroke="#fff" stroke-width="1.6"/>
<path d="M2090.0,1839.3 L2155.7,1839.3 L2155.7,1857.6 L2090.0,1857.6 Z" fill="none" stroke="#fff" stroke-width="1.6"/>
<path d="M1992.0,2076.4 L2155.7,2076.4 L2155.7,2088.8 L1992.0,2088.8 Z" fill="none" stroke="#fff" stroke-width="1.6"/>
<path d="M494.0,2880.0 C494.0,2880.0 494.0,3000.0 494.0,3000.0 C494.0,3000.0 513.4,2998.9 520.8,2998.3 C528.2,2997.8 534.0,2997.5 538.3,2996.7 C542.6,2995.9 542.5,2994.4 546.7,2993.3 C550.9,2992.2 559.1,2991.8 563.3,2990.0 C567.5,2988.2 568.8,2986.2 571.7,2982.2 C574.7,2978.2 579.0,2968.7 581.0,2966.0 C583.0,2963.3 584.2,2962.0 583.5,2966.0 C582.8,2970.0 578.7,2983.8 576.7,2990.0 C574.7,2996.2 573.1,2999.1 571.7,3003.3 C570.3,3007.5 569.4,3011.4 568.3,3015.0 C567.2,3018.6 565.0,3020.8 565.0,3025.0 C565.0,3029.2 566.3,3033.9 568.3,3040.0 C570.2,3046.1 573.1,3056.1 576.7,3061.7 C580.3,3067.2 585.3,3070.2 590.0,3073.3 C594.7,3076.4 600.8,3078.9 605.0,3080.0 C609.2,3081.1 611.4,3080.8 615.0,3080.0 C618.6,3079.2 622.0,3078.1 626.7,3075.0 C631.4,3071.9 639.3,3067.0 643.3,3061.7 C647.3,3056.4 649.1,3049.4 650.8,3043.3 C652.5,3037.2 653.4,3030.6 653.3,3025.0 C653.2,3019.4 651.7,3015.8 650.0,3010.0 C648.3,3004.2 645.7,2997.2 643.3,2990.0 C640.9,2982.8 636.7,2970.6 635.8,2966.7 C634.9,2962.8 636.8,2964.2 638.0,2966.7 C639.2,2969.2 639.3,2977.5 643.3,2981.7 C647.2,2985.9 655.3,2989.2 661.7,2991.7 C668.1,2994.2 675.6,2995.4 681.7,2996.7 C687.8,2997.9 690.6,2998.5 698.3,2999.2 C706.0,2999.9 728.0,3001.0 728.0,3001.0 C728.0,3001.0 728.0,2880.0 728.0,2880.0 Z" fill="#ffffff"/>
<path d="M610.0,2645.8 L603.5,2650.0 L601.0,2663.0 L599.5,2692.0 L597.0,2710.0 L597.0,2728.0 L599.5,2740.0 L606.5,2753.0 L609.5,2759.0 L610.5,2759.0 L613.5,2753.0 L620.5,2740.0 L623.0,2728.0 L623.0,2710.0 L620.5,2692.0 L619.0,2663.0 L616.5,2650.0 L610.0,2645.8 Z" fill="#5470c0" />
<path d="M609.5,2776.7 L607.0,2780.0 L605.5,2787.0 L601.0,2790.0 L601.0,2805.0 L603.0,2807.0 L607.5,2809.0 L608.5,2813.3 L610.5,2813.3 L611.5,2809.0 L616.0,2807.0 L618.0,2805.0 L618.0,2790.0 L613.5,2787.0 L612.0,2780.0 L609.5,2776.7 Z" fill="#5fbde9" />
<path d="M609.5,2830.8 L608.0,2840.0 L605.8,2846.7 L605.8,2870.8 L608.0,2872.0 L612.0,2872.0 L614.2,2870.8 L614.2,2846.7 L612.0,2840.0 L610.5,2830.8 Z" fill="#72d0d2" />
<path d="M606.5,3082.0 L597.4,3089.2 L587.0,3100.0 L588.1,3118.0 L597.4,3125.2 L589.3,3139.6 L593.9,3154.0 L605.4,3143.2 L614.6,3143.2 L626.1,3154.0 L630.7,3139.6 L622.6,3125.2 L631.9,3118.0 L633.0,3100.0 L622.6,3089.2 L613.5,3082.0 Z" fill="#5571c2" />
<path d="M606.5,3080.0 L605.0,3100.0 L602.4,3150.0 L599.1,3200.0 L597.8,3240.0 L599.1,3280.0 L602.4,3320.0 L604.1,3350.0 L605.0,3400.0 L605.0,3440.0 L615.0,3440.0 L615.0,3400.0 L615.9,3350.0 L617.6,3320.0 L620.9,3280.0 L622.2,3240.0 L620.9,3200.0 L617.6,3150.0 L615.0,3100.0 L613.5,3080.0 Z" fill="#5fbde9" />
<rect x="605" y="3100" width="10" height="45" fill="#ffffff"/>
<path d="M608.0,2870.0 L612.0,2870.0 L612.0,3440.0 L608.0,3440.0 Z" fill="#6cc8a8" />
<path d="M608.0,3100.0 L612.0,3100.0 L612.0,3440.0 L608.0,3440.0 Z" fill="#66c23a" />
<rect x="604" y="3262" width="12" height="178" fill="#ffffff"/>
<rect x="606" y="3175" width="8" height="90" fill="#ffffff"/>
<rect x="608.5" y="3180" width="3" height="260" fill="#8ccc40"/>
<rect x="607" y="3300" width="4" height="12" fill="#f0a838"/>
<rect x="607" y="3340" width="4" height="12" fill="#f0a838"/>
<rect x="607" y="3380" width="4" height="12" fill="#f0a838"/>
<rect x="607" y="3410" width="4" height="12" fill="#f0a838"/>
<path d="M520.8,3439.5 L700.7,3439.5 L700.7,3459.5 L520.8,3459.5 Z" fill="none" stroke="#fff" stroke-width="1.6"/>
<line x1="610.7" y1="3439.5" x2="610.7" y2="3459.5" stroke="#fff" stroke-width="1.6"/>
<path d="M521.3,3701.4 L700.7,3701.4 L700.7,3713.2 L521.3,3713.2 Z" fill="none" stroke="#fff" stroke-width="1.6"/>
<line x1="610.7" y1="3701.4" x2="610.7" y2="3713.2" stroke="#fff" stroke-width="1.6"/>
<path d="M794.0,2880.0 C794.0,2880.0 794.0,3009.8 794.0,3009.8 C794.0,3009.8 819.0,3007.6 829.3,3004.8 C839.6,3002.1 848.8,2997.4 855.6,2993.3 C862.4,2989.2 865.6,2984.4 870.0,2980.0 C874.4,2975.6 879.5,2968.7 881.7,2966.7 C883.9,2964.7 884.0,2964.1 883.0,2968.0 C882.0,2971.9 878.3,2981.9 875.4,2990.0 C872.5,2998.1 867.4,3007.1 865.5,3016.4 C863.6,3025.7 863.4,3037.2 863.9,3046.0 C864.4,3054.8 865.2,3062.4 868.8,3069.0 C872.4,3075.6 878.7,3080.6 885.3,3085.5 C891.9,3090.4 903.4,3096.5 908.4,3098.7 C913.4,3100.9 910.6,3100.3 915.0,3098.7 C919.4,3097.0 928.7,3093.2 934.7,3088.8 C940.7,3084.4 947.1,3079.5 951.2,3072.4 C955.3,3065.3 958.6,3055.3 959.4,3046.0 C960.2,3036.7 958.0,3025.7 956.1,3016.4 C954.2,3007.1 950.3,2998.4 947.9,2990.0 C945.5,2981.6 942.4,2970.0 941.7,2966.0 C941.1,2962.0 942.3,2963.3 944.0,2966.0 C945.7,2968.7 948.1,2976.9 952.0,2982.0 C955.9,2987.1 959.5,2992.8 967.6,2996.6 C975.7,3000.4 990.4,3002.6 1000.6,3004.8 C1010.8,3007.0 1029.0,3009.8 1029.0,3009.8 C1029.0,3009.8 1029.0,2880.0 1029.0,2880.0 Z" fill="#ffffff"/>
<path d="M911.7,2672.5 L905.2,2677.5 L903.2,2689.0 L901.4,2719.0 L899.2,2737.5 L899.2,2756.7 L901.4,2766.7 L907.0,2780.0 L911.2,2787.5 L912.2,2787.5 L916.4,2780.0 L922.0,2766.7 L924.2,2756.7 L924.2,2737.5 L922.0,2719.0 L920.2,2689.0 L918.2,2677.5 L911.7,2672.5 Z" fill="#5470c0" />
<path d="M911.7,2816.7 L909.2,2822.0 L907.7,2829.0 L903.2,2831.7 L903.2,2845.0 L905.2,2847.0 L909.7,2849.0 L910.7,2853.3 L912.7,2853.3 L913.7,2849.0 L918.2,2847.0 L920.2,2845.0 L920.2,2831.7 L915.7,2829.0 L914.2,2822.0 L911.7,2816.7 Z" fill="#5fbde9" />
<path d="M911.2,2890.0 L909.7,2900.0 L907.1,2905.0 L907.1,2928.0 L909.5,2930.0 L913.9,2930.0 L916.3,2928.0 L916.3,2905.0 L913.7,2900.0 L912.2,2890.0 Z" fill="#72d0d2" />
<path d="M907.7,3110.0 L896.9,3114.0 L884.7,3120.0 L886.1,3130.0 L896.9,3134.0 L887.4,3142.0 L892.8,3150.0 L906.3,3144.0 L917.1,3144.0 L930.6,3150.0 L936.0,3142.0 L926.6,3134.0 L937.4,3130.0 L938.7,3120.0 L926.6,3114.0 L915.8,3110.0 Z" fill="#5571c2" />
<path d="M908.2,3098.0 L907.5,3150.0 L904.1,3187.0 L898.7,3253.0 L901.6,3286.0 L905.0,3300.0 L901.6,3360.0 L904.1,3424.0 L905.8,3450.0 L906.7,3550.0 L908.2,3560.0 L915.2,3560.0 L916.7,3550.0 L917.6,3450.0 L919.3,3424.0 L921.8,3360.0 L918.4,3300.0 L921.8,3286.0 L924.7,3253.0 L919.3,3187.0 L915.9,3150.0 L915.2,3098.0 Z" fill="#5fbde9" />
<rect x="905.5" y="3120" width="13" height="55" fill="#ffffff"/>
<path d="M909.5,2928.0 L914.0,2928.0 L913.7,3550.0 L909.7,3550.0 Z" fill="#6cc8a8" />
<path d="M909.5,3150.0 L914.0,3150.0 L913.7,3550.0 L909.7,3550.0 Z" fill="#66c23a" />
<rect x="907" y="3240" width="9" height="25" fill="#ffffff"/>
<rect x="907" y="3330" width="9" height="95" fill="#ffffff"/>
<rect x="906" y="3425" width="11" height="125" fill="#ffffff"/>
<rect x="909.5" y="3430" width="4" height="120" fill="#d8dc40"/>
<path d="M822.7,3449.5 L905.0,3449.5 L905.0,3469.3 L822.7,3469.3 Z" fill="none" stroke="#fff" stroke-width="1.6"/>
<path d="M918.0,3449.5 L1001.2,3449.5 L1001.2,3469.3 L918.0,3469.3 Z" fill="none" stroke="#fff" stroke-width="1.6"/>
<path d="M823.3,3711.0 L1001.2,3711.0 L1001.2,3721.8 L823.3,3721.8 Z" fill="none" stroke="#fff" stroke-width="1.6"/>
<line x1="911.7" y1="3711" x2="911.7" y2="3721.8" stroke="#fff" stroke-width="1.6"/>
<path d="M1094.0,2880.0 C1094.0,2880.0 1094.0,3004.2 1094.0,3004.2 C1094.0,3004.2 1107.5,3001.8 1116.1,3000.0 C1124.7,2998.2 1137.9,2996.1 1145.8,2993.3 C1153.7,2990.5 1157.9,2990.8 1163.3,2983.3 C1168.7,2975.8 1175.5,2953.9 1178.3,2948.3 C1181.1,2942.8 1182.1,2943.1 1180.0,2950.0 C1177.9,2956.9 1169.3,2977.8 1165.5,2990.0 C1161.7,3002.2 1158.4,3013.7 1157.3,3023.0 C1156.2,3032.3 1157.0,3037.8 1158.9,3046.0 C1160.8,3054.2 1163.8,3065.3 1168.8,3072.4 C1173.8,3079.5 1182.0,3084.4 1188.6,3088.8 C1195.2,3093.2 1204.0,3097.0 1208.4,3098.7 C1212.8,3100.3 1210.6,3100.3 1215.0,3098.7 C1219.4,3097.0 1228.1,3093.2 1234.7,3088.8 C1241.3,3084.4 1249.5,3080.6 1254.5,3072.4 C1259.5,3064.2 1263.3,3049.3 1264.4,3039.4 C1265.5,3029.5 1263.0,3021.2 1261.1,3013.0 C1259.2,3004.8 1255.9,3000.5 1252.8,2990.0 C1249.7,2979.5 1244.0,2956.7 1242.5,2950.0 C1241.0,2943.3 1242.2,2945.8 1244.0,2950.0 C1245.8,2954.2 1247.2,2967.2 1253.3,2975.0 C1259.4,2982.8 1268.3,2991.6 1280.8,2996.6 C1293.2,3001.6 1328.0,3004.8 1328.0,3004.8 C1328.0,3004.8 1328.0,2880.0 1328.0,2880.0 Z" fill="#ffffff"/>
<path d="M1211.0,2684.2 L1205.1,2688.3 L1203.0,2699.2 L1200.7,2730.0 L1198.2,2746.7 L1198.2,2768.3 L1200.7,2778.3 L1206.0,2788.3 L1210.5,2797.5 L1211.5,2797.5 L1216.0,2788.3 L1221.3,2778.3 L1223.8,2768.3 L1223.8,2746.7 L1221.3,2730.0 L1219.0,2699.2 L1216.9,2688.3 L1211.0,2684.2 Z" fill="#5470c0" />
<path d="M1211.0,2840.0 L1208.5,2846.0 L1207.0,2850.0 L1203.0,2853.0 L1203.0,2866.7 L1205.0,2869.0 L1209.0,2871.0 L1210.0,2877.5 L1212.0,2877.5 L1213.0,2871.0 L1217.0,2869.0 L1219.0,2866.7 L1219.0,2853.0 L1215.0,2850.0 L1213.5,2846.0 L1211.0,2840.0 Z" fill="#5fbde9" />
<path d="M1210.5,2930.0 L1209.0,2940.0 L1207.0,2945.0 L1207.0,2968.3 L1209.0,2983.0 L1213.0,2983.0 L1215.0,2968.3 L1215.0,2945.0 L1213.0,2940.0 L1211.5,2930.0 Z" fill="#72d0d2" />
<path d="M1206.8,3112.0 L1195.6,3115.0 L1183.0,3119.5 L1184.4,3127.0 L1195.6,3130.0 L1185.8,3136.0 L1191.4,3142.0 L1205.4,3137.5 L1216.6,3137.5 L1230.6,3142.0 L1236.2,3136.0 L1226.4,3130.0 L1237.6,3127.0 L1239.0,3119.5 L1226.4,3115.0 L1215.2,3112.0 Z" fill="#5571c2" />
<path d="M1207.5,3098.0 L1204.3,3121.8 L1204.3,3174.5 L1206.8,3194.0 L1196.7,3280.0 L1202.6,3296.0 L1200.1,3360.0 L1203.4,3418.0 L1206.0,3450.0 L1206.0,3510.0 L1200.9,3590.0 L1206.0,3640.0 L1216.0,3640.0 L1221.1,3590.0 L1216.0,3510.0 L1216.0,3450.0 L1218.6,3418.0 L1221.9,3360.0 L1219.4,3296.0 L1225.3,3280.0 L1215.2,3194.0 L1217.7,3174.5 L1217.7,3121.8 L1214.5,3098.0 Z" fill="#5fbde9" />
<path d="M1209.0,2983.0 L1213.0,2983.0 L1212.5,3640.0 L1209.5,3640.0 Z" fill="#6cc8a8" />
<path d="M1209.0,3180.0 L1213.0,3180.0 L1212.5,3640.0 L1209.5,3640.0 Z" fill="#66c23a" />
<path d="M1203.0,3120.0 L1218.0,3120.0 L1218.0,3175.0 L1211.0,3180.0 L1203.0,3175.0 Z" fill="#ffffff" />
<path d="M1206.0,3230.0 L1216.0,3230.0 L1222.0,3285.0 L1200.0,3285.0 Z" fill="#ffffff" />
<rect x="1203" y="3510" width="15" height="46" fill="#ffffff"/>
<rect x="1207" y="3560" width="8" height="80" fill="#ffffff"/>
<rect x="1209" y="3510" width="3.5" height="130" fill="#c8dc40"/>
<path d="M1121.0,3444.3 L1205.0,3444.3 L1205.0,3464.6 L1121.0,3464.6 Z" fill="none" stroke="#fff" stroke-width="1.6"/>
<path d="M1218.0,3444.3 L1300.6,3444.3 L1300.6,3464.6 L1218.0,3464.6 Z" fill="none" stroke="#fff" stroke-width="1.6"/>
<path d="M1122.8,3705.7 L1300.6,3705.7 L1300.6,3717.5 L1122.8,3717.5 Z" fill="none" stroke="#fff" stroke-width="1.6"/>
<line x1="1211.7" y1="3705.7" x2="1211.7" y2="3717.5" stroke="#fff" stroke-width="1.6"/>
<path d="M1394.0,2880.0 C1394.0,2880.0 1394.0,3006.5 1394.0,3006.5 C1394.0,3006.5 1408.8,3005.1 1417.1,3003.2 C1425.3,3001.3 1434.5,3001.1 1443.5,2995.0 C1452.5,2988.9 1465.9,2973.6 1471.0,2966.7 C1476.1,2959.8 1473.0,2958.6 1474.3,2953.3 C1475.5,2948.0 1477.5,2937.7 1478.5,2935.0 C1479.5,2932.3 1480.4,2932.8 1480.0,2937.0 C1479.6,2941.2 1478.5,2951.2 1476.0,2960.0 C1473.5,2968.8 1468.1,2979.5 1464.9,2990.0 C1461.7,3000.5 1457.7,3012.0 1456.6,3023.0 C1455.5,3034.0 1456.1,3046.0 1458.3,3055.9 C1460.5,3065.8 1464.0,3075.1 1469.8,3082.2 C1475.6,3089.3 1486.9,3093.8 1492.9,3098.7 C1499.0,3103.6 1502.2,3109.7 1506.1,3111.9 C1509.9,3114.1 1511.6,3114.7 1516.0,3111.9 C1520.4,3109.2 1525.8,3100.9 1532.4,3095.4 C1539.0,3089.9 1549.7,3087.1 1555.5,3078.9 C1561.3,3070.7 1565.3,3056.4 1567.0,3046.0 C1568.7,3035.6 1566.8,3025.7 1565.4,3016.4 C1564.0,3007.1 1562.0,2999.4 1558.8,2990.0 C1555.6,2980.6 1548.5,2968.8 1546.0,2960.0 C1543.5,2951.2 1543.7,2940.8 1543.5,2937.0 C1543.3,2933.2 1543.5,2930.9 1545.0,2937.0 C1546.5,2943.1 1546.6,2963.4 1552.7,2973.3 C1558.8,2983.2 1569.1,2991.1 1581.8,2996.6 C1594.5,3002.1 1629.0,3006.5 1629.0,3006.5 C1629.0,3006.5 1629.0,2880.0 1629.0,2880.0 Z" fill="#ffffff"/>
<path d="M1511.5,2698.3 L1505.1,2702.5 L1502.9,2715.8 L1501.1,2744.2 L1499.0,2760.0 L1499.0,2782.5 L1501.1,2791.7 L1505.3,2801.7 L1511.0,2812.5 L1512.0,2812.5 L1517.7,2801.7 L1521.9,2791.7 L1524.0,2782.5 L1524.0,2760.0 L1521.9,2744.2 L1520.1,2715.8 L1517.9,2702.5 L1511.5,2698.3 Z" fill="#5470c0" />
<path d="M1511.5,2863.3 L1509.0,2868.0 L1507.5,2872.0 L1503.1,2876.7 L1503.1,2886.7 L1505.5,2890.0 L1509.5,2893.0 L1510.5,2899.2 L1512.5,2899.2 L1513.5,2893.0 L1517.5,2890.0 L1519.9,2886.7 L1519.9,2876.7 L1515.5,2872.0 L1514.0,2868.0 L1511.5,2863.3 Z" fill="#5fbde9" />
<path d="M1511.0,2965.0 L1509.5,2975.0 L1507.3,2980.0 L1507.3,3000.0 L1509.3,3010.0 L1513.7,3010.0 L1515.7,3000.0 L1515.7,2980.0 L1513.5,2975.0 L1512.0,2965.0 Z" fill="#72d0d2" />
<path d="M1506.5,3122.0 L1494.5,3124.6 L1481.0,3128.5 L1482.5,3135.0 L1494.5,3137.6 L1484.0,3142.8 L1490.0,3148.0 L1505.0,3144.1 L1517.0,3144.1 L1532.0,3148.0 L1538.0,3142.8 L1527.5,3137.6 L1539.5,3135.0 L1541.0,3128.5 L1527.5,3124.6 L1515.5,3122.0 Z" fill="#5571c2" />
<path d="M1507.5,3112.0 L1504.1,3135.0 L1504.1,3184.4 L1506.0,3200.0 L1493.4,3280.0 L1499.2,3296.0 L1500.1,3360.0 L1502.6,3434.0 L1506.0,3450.0 L1506.0,3500.0 L1500.1,3560.0 L1500.1,3609.0 L1506.0,3640.0 L1506.8,3698.0 L1515.2,3698.0 L1516.0,3640.0 L1521.9,3609.0 L1521.9,3560.0 L1516.0,3500.0 L1516.0,3450.0 L1519.4,3434.0 L1521.9,3360.0 L1522.8,3296.0 L1528.6,3280.0 L1516.0,3200.0 L1517.9,3184.4 L1517.9,3135.0 L1514.5,3112.0 Z" fill="#5fbde9" />
<path d="M1509.0,3000.0 L1513.0,3000.0 L1512.5,3698.0 L1509.5,3698.0 Z" fill="#6cc8a8" />
<path d="M1509.0,3200.0 L1513.0,3200.0 L1512.5,3698.0 L1509.5,3698.0 Z" fill="#66c23a" />
<path d="M1503.0,3135.0 L1519.0,3135.0 L1519.0,3184.0 L1511.0,3190.0 L1503.0,3184.0 Z" fill="#ffffff" />
<path d="M1505.0,3255.0 L1517.0,3255.0 L1524.0,3296.0 L1498.0,3296.0 Z" fill="#ffffff" />
<rect x="1498" y="3504" width="26" height="105" fill="#ffffff"/>
<rect x="1509" y="3504" width="4" height="105" fill="#c8dc40"/>
<path d="M1422.3,3448.6 L1505.0,3448.6 L1505.0,3467.3 L1422.3,3467.3 Z" fill="none" stroke="#fff" stroke-width="1.6"/>
<path d="M1518.0,3448.6 L1601.2,3448.6 L1601.2,3467.3 L1518.0,3467.3 Z" fill="none" stroke="#fff" stroke-width="1.6"/>
<path d="M1423.4,3710.9 L1601.2,3710.9 L1601.2,3722.7 L1423.4,3722.7 Z" fill="none" stroke="#fff" stroke-width="1.6"/>
<line x1="1511.8" y1="3710.9" x2="1511.8" y2="3722.7" stroke="#fff" stroke-width="1.6"/>
<path d="M1700.0,2880.0 C1700.0,2880.0 1700.0,3005.0 1700.0,3005.0 C1700.0,3005.0 1730.3,2998.8 1741.5,2994.3 C1752.7,2989.9 1761.1,2984.6 1767.0,2978.3 C1772.9,2972.0 1774.5,2965.9 1777.0,2956.7 C1779.5,2947.5 1781.0,2928.6 1782.0,2923.3 C1783.0,2918.0 1784.0,2918.9 1783.0,2925.0 C1782.0,2931.1 1778.6,2949.2 1776.0,2960.0 C1773.4,2970.8 1770.5,2978.6 1767.3,2990.0 C1764.1,3001.4 1757.3,3016.5 1756.6,3028.7 C1755.9,3040.9 1759.1,3053.0 1763.0,3063.1 C1766.9,3073.2 1773.8,3081.1 1780.2,3089.0 C1786.7,3096.9 1797.4,3105.4 1801.7,3110.4 C1806.0,3115.4 1801.7,3117.6 1806.0,3119.0 C1810.3,3120.4 1823.2,3120.4 1827.5,3119.0 C1831.8,3117.6 1827.5,3114.7 1831.8,3110.4 C1836.1,3106.1 1846.8,3100.4 1853.3,3093.2 C1859.8,3086.0 1866.5,3077.4 1870.5,3067.4 C1874.5,3057.4 1877.7,3045.9 1877.0,3033.0 C1876.3,3020.1 1869.5,3002.2 1866.2,2990.0 C1862.9,2977.8 1859.4,2970.8 1857.0,2960.0 C1854.6,2949.2 1852.7,2930.8 1852.0,2925.0 C1851.3,2919.2 1850.8,2916.4 1853.0,2925.0 C1855.2,2933.6 1858.8,2965.1 1865.3,2976.7 C1871.8,2988.2 1880.4,2989.2 1892.0,2994.3 C1903.6,2999.4 1935.0,3007.2 1935.0,3007.2 C1935.0,3007.2 1935.0,2880.0 1935.0,2880.0 Z" fill="#ffffff"/>
<path d="M1817.0,2713.3 L1810.7,2715.8 L1808.9,2727.5 L1806.7,2758.3 L1804.0,2773.3 L1804.0,2795.8 L1806.7,2805.0 L1810.8,2815.0 L1816.5,2824.2 L1817.5,2824.2 L1823.2,2815.0 L1827.3,2805.0 L1830.0,2795.8 L1830.0,2773.3 L1827.3,2758.3 L1825.1,2727.5 L1823.3,2715.8 L1817.0,2713.3 Z" fill="#5470c0" />
<path d="M1817.0,2886.7 L1814.5,2892.0 L1813.0,2895.0 L1808.0,2898.3 L1808.0,2911.7 L1811.0,2914.0 L1815.0,2917.0 L1816.0,2921.7 L1818.0,2921.7 L1819.0,2917.0 L1823.0,2914.0 L1826.0,2911.7 L1826.0,2898.3 L1821.0,2895.0 L1819.5,2892.0 L1817.0,2886.7 Z" fill="#5fbde9" />
<path d="M1813.4,3130.0 L1803.8,3131.8 L1793.0,3134.5 L1794.2,3139.0 L1803.8,3140.8 L1795.4,3144.4 L1800.2,3148.0 L1812.2,3145.3 L1821.8,3145.3 L1833.8,3148.0 L1838.6,3144.4 L1830.2,3140.8 L1839.8,3139.0 L1841.0,3134.5 L1830.2,3131.8 L1820.6,3130.0 Z" fill="#5571c2" />
<path d="M1813.5,3119.0 L1809.7,3144.8 L1809.7,3179.0 L1812.0,3230.0 L1801.0,3295.0 L1806.9,3312.0 L1808.6,3380.0 L1809.4,3446.0 L1810.3,3506.0 L1803.6,3600.0 L1808.6,3622.0 L1809.4,3678.0 L1812.8,3760.0 L1821.2,3760.0 L1824.6,3678.0 L1825.4,3622.0 L1830.4,3600.0 L1823.7,3506.0 L1824.6,3446.0 L1825.4,3380.0 L1827.1,3312.0 L1833.0,3295.0 L1822.0,3230.0 L1824.3,3179.0 L1824.3,3144.8 L1820.5,3119.0 Z" fill="#5fbde9" />
<rect x="1814.5" y="3000.8" width="5" height="50" fill="#72d0d2"/>
<path d="M1815.0,3050.0 L1819.0,3050.0 L1818.5,3766.0 L1815.5,3766.0 Z" fill="#6cc8a8" />
<path d="M1815.0,3200.0 L1819.0,3200.0 L1818.5,3766.0 L1815.5,3766.0 Z" fill="#66c23a" />
<path d="M1808.2,3144.8 L1825.4,3144.8 L1825.4,3179.0 L1817.0,3185.0 L1808.2,3179.0 Z" fill="#ffffff" />
<path d="M1810.0,3260.0 L1824.0,3260.0 L1832.0,3304.0 L1802.0,3304.0 Z" fill="#ffffff" />
<path d="M1805.0,3506.0 L1828.0,3506.0 L1834.0,3590.0 L1820.0,3625.0 L1815.0,3625.0 L1801.7,3590.0 Z" fill="#ffffff" />
<rect x="1811.7" y="3722" width="11.6" height="45" fill="#ffffff"/>
<rect x="1815" y="3506" width="4" height="260" fill="#8ccc40"/>
<path d="M1726.4,3448.3 L1795.7,3448.3 L1795.7,3468.3 L1726.4,3468.3 Z" fill="none" stroke="#fff" stroke-width="1.6"/>
<path d="M1837.9,3448.3 L1907.1,3448.3 L1907.1,3468.3 L1837.9,3468.3 Z" fill="none" stroke="#fff" stroke-width="1.6"/>
<path d="M1726.7,3710.7 L1907.7,3710.7 L1907.7,3722.3 L1726.7,3722.3 Z" fill="none" stroke="#fff" stroke-width="1.6"/>
<rect x="1804.6" y="3447" width="4" height="131" fill="#f0a830"/>
<rect x="1823.3" y="3447" width="4" height="131" fill="#f0a830"/>
<rect x="1755.7" y="3554.6" width="50.899999999999864" height="3" fill="#f0a830"/>
<rect x="1825.3" y="3554.6" width="51.799999999999955" height="3" fill="#f0a830"/>
<rect x="1806.6" y="3554.6" width="18.700000000000045" height="3" fill="#f0a830"/>
<path d="M1804.6,3556.1 L1786.6,3550.6 L1786.6,3561.6 Z" fill="#f0a830" />
<path d="M1827.3,3556.1 L1845.3,3550.6 L1845.3,3561.6 Z" fill="#f0a830" />
<rect x="1805.5" y="3710.7" width="4" height="126.0" fill="#f0a830"/>
<rect x="1823.3" y="3710" width="4" height="126.69999999999982" fill="#f0a830"/>
<rect x="1758.3" y="3781.8" width="49.200000000000045" height="3" fill="#f0a830"/>
<rect x="1825.3" y="3781.8" width="48.0" height="3" fill="#f0a830"/>
<rect x="1807.5" y="3781.8" width="17.799999999999955" height="3" fill="#f0a830"/>
<path d="M1805.5,3783.3 L1787.5,3777.8 L1787.5,3788.8 Z" fill="#f0a830" />
<path d="M1827.3,3783.3 L1845.3,3777.8 L1845.3,3788.8 Z" fill="#f0a830" />
<text x="1729.6" y="3623.1" font-size="55.5" fill="#f0a830" >1.50 cm</text>
<text x="1729.7" y="3865.7" font-size="55.5" fill="#f0a830" >1.18 cm</text>
<path d="M1996.0,2880.0 C1996.0,2880.0 1996.0,3007.7 1996.0,3007.7 C1996.0,3007.7 2005.7,3004.8 2012.4,3001.8 C2019.1,2998.9 2029.2,2992.5 2036.0,2990.0 C2042.8,2987.5 2048.5,2990.9 2053.0,2986.7 C2057.5,2982.5 2060.2,2972.8 2063.0,2965.0 C2065.8,2957.2 2068.2,2947.2 2069.7,2940.0 C2071.2,2932.8 2071.6,2924.7 2072.2,2921.7 C2072.8,2918.7 2073.0,2918.1 2073.0,2922.0 C2073.0,2925.9 2074.2,2936.2 2072.0,2945.0 C2069.8,2953.8 2062.7,2967.5 2060.0,2975.0 C2057.3,2982.5 2057.7,2982.2 2055.7,2990.0 C2053.7,2997.8 2049.1,3011.7 2047.8,3021.5 C2046.5,3031.3 2046.5,3039.8 2047.8,3049.0 C2049.1,3058.2 2051.8,3068.7 2055.7,3076.6 C2059.6,3084.5 2065.5,3091.1 2071.4,3096.3 C2077.3,3101.6 2085.2,3101.6 2091.1,3108.1 C2097.0,3114.6 2101.9,3131.0 2106.8,3135.6 C2111.7,3140.2 2116.0,3139.5 2120.6,3135.6 C2125.2,3131.7 2128.2,3119.2 2134.4,3112.0 C2140.6,3104.8 2151.4,3099.5 2158.0,3092.3 C2164.6,3085.1 2170.1,3079.2 2173.7,3068.7 C2177.3,3058.2 2180.2,3042.5 2179.6,3029.4 C2178.9,3016.3 2173.1,2999.9 2169.8,2990.0 C2166.5,2980.1 2162.5,2977.5 2160.0,2970.0 C2157.5,2962.5 2155.8,2953.0 2154.8,2945.0 C2153.8,2937.0 2153.6,2922.8 2153.8,2922.0 C2154.1,2921.2 2154.5,2932.8 2156.3,2940.0 C2158.1,2947.2 2160.8,2957.2 2164.7,2965.0 C2168.6,2972.8 2174.9,2981.2 2179.7,2986.7 C2184.5,2992.2 2184.8,2994.4 2193.4,2997.9 C2202.0,3001.4 2231.0,3007.7 2231.0,3007.7 C2231.0,3007.7 2231.0,2880.0 2231.0,2880.0 Z" fill="#ffffff"/>
<path d="M2113.5,2744.2 L2107.1,2748.3 L2105.1,2758.3 L2103.1,2788.3 L2101.0,2808.3 L2101.0,2825.0 L2103.1,2835.8 L2107.3,2845.8 L2113.0,2855.8 L2114.0,2855.8 L2119.7,2845.8 L2123.9,2835.8 L2126.0,2825.0 L2126.0,2808.3 L2123.9,2788.3 L2121.9,2758.3 L2119.9,2748.3 L2113.5,2744.2 Z" fill="#5470c0" />
<path d="M2113.5,2938.3 L2111.0,2944.0 L2109.5,2948.0 L2105.1,2953.3 L2105.1,2966.7 L2107.5,2969.0 L2111.5,2972.0 L2112.5,2975.0 L2114.5,2975.0 L2115.5,2972.0 L2119.5,2969.0 L2121.9,2966.7 L2121.9,2953.3 L2117.5,2948.0 L2116.0,2944.0 L2113.5,2938.3 Z" fill="#5fbde9" />
<path d="M2110.0,3135.0 L2106.8,3160.0 L2107.6,3195.0 L2108.5,3290.0 L2101.7,3330.0 L2107.6,3440.0 L2108.5,3517.0 L2103.4,3565.0 L2101.7,3600.0 L2106.8,3640.0 L2108.5,3725.0 L2103.4,3780.0 L2106.8,3800.0 L2103.4,3840.0 L2109.3,3895.0 L2117.7,3895.0 L2123.6,3840.0 L2120.2,3800.0 L2123.6,3780.0 L2118.5,3725.0 L2120.2,3640.0 L2125.3,3600.0 L2123.6,3565.0 L2118.5,3517.0 L2119.4,3440.0 L2125.3,3330.0 L2118.5,3290.0 L2119.4,3195.0 L2120.2,3160.0 L2117.0,3135.0 Z" fill="#5fbde9" />
<path d="M2109.0,3082.5 L2112.7,3070.0 L2117.0,3082.5 L2117.0,3131.7 L2109.0,3131.7 Z" fill="#72d0d2" />
<path d="M2111.5,3131.0 L2115.5,3131.0 L2115.0,3895.0 L2112.0,3895.0 Z" fill="#6cc8a8" />
<path d="M2111.5,3300.0 L2115.5,3300.0 L2115.0,3895.0 L2112.0,3895.0 Z" fill="#66c23a" />
<rect x="2106.8" y="3131.7" width="13.8" height="63" fill="#ffffff"/>
<rect x="2111.5" y="3131.7" width="4" height="63" fill="#6cc8a8"/>
<path d="M2097.0,3297.0 L2105.0,3300.0 L2108.0,3332.0 L2097.0,3332.0 Z" fill="#ffffff" />
<path d="M2130.0,3297.0 L2122.0,3300.0 L2119.0,3332.0 L2130.0,3332.0 Z" fill="#ffffff" />
<path d="M2101.0,3517.0 L2124.5,3517.0 L2124.5,3564.6 L2142.0,3580.0 L2142.0,3615.0 L2124.0,3620.0 L2120.0,3640.0 L2106.0,3640.0 L2102.0,3620.0 L2085.0,3615.0 L2085.0,3580.0 L2101.0,3564.6 Z" fill="#ffffff" />
<rect x="2111.5" y="3517" width="4" height="123" fill="#8ccc40"/>
<rect x="2108.3" y="3725" width="10" height="170" fill="#ffffff"/>
<rect x="2111.5" y="3725" width="4" height="170" fill="#8ccc40"/>
<path d="M2025.5,3450.7 L2104.0,3450.7 L2104.0,3472.1 L2025.5,3472.1 Z" fill="none" stroke="#fff" stroke-width="1.6"/>
<path d="M2122.0,3450.7 L2203.3,3450.7 L2203.3,3472.1 L2122.0,3472.1 Z" fill="none" stroke="#fff" stroke-width="1.6"/>
<path d="M2024.4,3712.5 L2203.3,3712.5 L2203.3,3724.3 L2024.4,3724.3 Z" fill="none" stroke="#fff" stroke-width="1.6"/>
<text x="521.5" y="1168" font-size="55.5" fill="#231f20" letter-spacing="0.4"><tspan font-style="italic">t</tspan>=193 μs</text>
<text x="825.6" y="1168" font-size="55.5" fill="#231f20" letter-spacing="0.4"><tspan font-style="italic">t</tspan>=206 μs</text>
<text x="1137.7" y="1168" font-size="55.5" fill="#231f20" letter-spacing="0.4"><tspan font-style="italic">t</tspan>=234 μs</text>
<text x="1442" y="1168" font-size="55.5" fill="#231f20" letter-spacing="0.4"><tspan font-style="italic">t</tspan>=259 μs</text>
<text x="1718" y="1168" font-size="55.5" fill="#231f20" letter-spacing="0.4"><tspan font-style="italic">t</tspan>=308 μs</text>
<text x="2000.6" y="1168" font-size="55.5" fill="#231f20" letter-spacing="0.4"><tspan font-style="italic">t</tspan>=335 μs</text>
<text x="550.5" y="2469.5" font-size="55.5" fill="#231f20" letter-spacing="0.4"><tspan font-style="italic">t</tspan>=320 μs</text>
<text x="843" y="2469.5" font-size="55.5" fill="#231f20" letter-spacing="0.4"><tspan font-style="italic">t</tspan>=400 μs</text>
<text x="1127.6" y="2469.5" font-size="55.5" fill="#231f20" letter-spacing="0.4"><tspan font-style="italic">t</tspan>=443 μs</text>
<text x="1408.8" y="2469.5" font-size="55.5" fill="#231f20" letter-spacing="0.4"><tspan font-style="italic">t</tspan>=542 μs</text>
<text x="1698" y="2469.5" font-size="55.5" fill="#231f20" letter-spacing="0.4"><tspan font-style="italic">t</tspan>=700 μs</text>
<text x="1981.5" y="2469.5" font-size="55.5" fill="#231f20" letter-spacing="0.4"><tspan font-style="italic">t</tspan>=800 μs</text>
<text x="512.5" y="3996.5" font-size="55.5" fill="#231f20" letter-spacing="0.4"><tspan font-style="italic">t</tspan>=204 μs</text>
<text x="812.9" y="3996.5" font-size="55.5" fill="#231f20" letter-spacing="0.4"><tspan font-style="italic">t</tspan>=244 μs</text>
<text x="1111.5" y="3990" font-size="55.5" fill="#231f20" letter-spacing="0.4"><tspan font-style="italic">t</tspan>=282 μs</text>
<text x="1413.4" y="3996.5" font-size="55.5" fill="#231f20" letter-spacing="0.4"><tspan font-style="italic">t</tspan>=308 μs</text>
<text x="1719.8" y="3996.5" font-size="55.5" fill="#231f20" letter-spacing="0.4"><tspan font-style="italic">t</tspan>=338 μs</text>
<text x="2015.5" y="3996.5" font-size="55.5" fill="#231f20" letter-spacing="0.4"><tspan font-style="italic">t</tspan>=406 μs</text>
<text x="1230.7" y="1251" font-size="55.5" fill="#231f20" letter-spacing="0.55">(a) EFP, <tspan font-style="italic">H</tspan>=20 cm</text>
<text x="1249" y="2550" font-size="55.5" fill="#231f20" letter-spacing="0.2">(b) JPC, <tspan font-style="italic">H</tspan>=45 cm</text>
<text x="1222.6" y="4077" font-size="55.5" fill="#231f20" letter-spacing="0.35">(c) JET, <tspan font-style="italic">H</tspan>=45 cm</text>
<rect x="2354.5" y="200.0" width="40.5" height="111.75" fill="#ec2028"/>
<rect x="2354.5" y="311.75" width="40.5" height="111.75" fill="#f26b21"/>
<rect x="2354.5" y="423.5" width="40.5" height="111.75" fill="#e6e832"/>
<rect x="2354.5" y="535.25" width="40.5" height="111.75" fill="#84c92a"/>
<rect x="2354.5" y="647.0" width="40.5" height="111.75" fill="#62c034"/>
<rect x="2354.5" y="758.75" width="40.5" height="111.75" fill="#74d0d0"/>
<rect x="2354.5" y="870.5" width="40.5" height="111.75" fill="#4574c2"/>
<rect x="2354.5" y="982.25" width="40.5" height="111.75" fill="#3350a8"/>
<rect x="2355.75" y="201.25" width="38.0" height="891.5" fill="none" stroke="#111" stroke-width="2.5"/>
<rect x="2395" y="199.5" width="9" height="3" fill="#222"/>
<text x="2413" y="216.5" font-size="55.5" fill="#231f20" >2 500</text>
<rect x="2395" y="288.7" width="9" height="3" fill="#222"/>
<text x="2413" y="305.7" font-size="55.5" fill="#231f20" >2 300</text>
<rect x="2395" y="377.9" width="9" height="3" fill="#222"/>
<text x="2413" y="394.9" font-size="55.5" fill="#231f20" >2 100</text>
<rect x="2395" y="467.1" width="9" height="3" fill="#222"/>
<text x="2413" y="484.1" font-size="55.5" fill="#231f20" >1 900</text>
<rect x="2395" y="556.3" width="9" height="3" fill="#222"/>
<text x="2413" y="573.3" font-size="55.5" fill="#231f20" >1 700</text>
<rect x="2395" y="645.5" width="9" height="3" fill="#222"/>
<text x="2413" y="662.5" font-size="55.5" fill="#231f20" >1 500</text>
<rect x="2395" y="734.7" width="9" height="3" fill="#222"/>
<text x="2413" y="751.7" font-size="55.5" fill="#231f20" >1 300</text>
<rect x="2395" y="823.9" width="9" height="3" fill="#222"/>
<text x="2413" y="840.9" font-size="55.5" fill="#231f20" >1 100</text>
<rect x="2395" y="913.1" width="9" height="3" fill="#222"/>
<text x="2413" y="930.1" font-size="55.5" fill="#231f20" >900</text>
<rect x="2395" y="1002.3000000000001" width="9" height="3" fill="#222"/>
<text x="2413" y="1019.3000000000001" font-size="55.5" fill="#231f20" >700</text>
<rect x="2395" y="1091.5" width="9" height="3" fill="#222"/>
<text x="2413" y="1108.5" font-size="55.5" fill="#231f20" >500</text>
<text x="2294" y="142.4" font-size="55.5" fill="#231f20" >Velocity/(m·s<tspan font-size="33" dy="-22">−1</tspan><tspan dy="22">)</tspan></text>
<rect x="2354" y="1477.0" width="37" height="116.125" fill="#ec2028"/>
<rect x="2354" y="1593.125" width="37" height="116.125" fill="#f26b21"/>
<rect x="2354" y="1709.25" width="37" height="116.125" fill="#e6e832"/>
<rect x="2354" y="1825.375" width="37" height="116.125" fill="#84c92a"/>
<rect x="2354" y="1941.5" width="37" height="116.125" fill="#62c034"/>
<rect x="2354" y="2057.625" width="37" height="116.125" fill="#74d0d0"/>
<rect x="2354" y="2173.75" width="37" height="116.125" fill="#4574c2"/>
<rect x="2354" y="2289.875" width="37" height="116.125" fill="#3350a8"/>
<rect x="2355.25" y="1478.25" width="34.5" height="926.5" fill="none" stroke="#111" stroke-width="2.5"/>
<rect x="2391" y="1476.5" width="9" height="3" fill="#222"/>
<text x="2413" y="1493.5" font-size="55.5" fill="#231f20" >2 500</text>
<rect x="2391" y="1569.2" width="9" height="3" fill="#222"/>
<text x="2413" y="1586.2" font-size="55.5" fill="#231f20" >2 300</text>
<rect x="2391" y="1661.9" width="9" height="3" fill="#222"/>
<text x="2413" y="1678.9" font-size="55.5" fill="#231f20" >2 100</text>
<rect x="2391" y="1754.6" width="9" height="3" fill="#222"/>
<text x="2413" y="1771.6" font-size="55.5" fill="#231f20" >1 900</text>
<rect x="2391" y="1847.3" width="9" height="3" fill="#222"/>
<text x="2413" y="1864.3" font-size="55.5" fill="#231f20" >1 700</text>
<rect x="2391" y="1940.0" width="9" height="3" fill="#222"/>
<text x="2413" y="1957.0" font-size="55.5" fill="#231f20" >1 500</text>
<rect x="2391" y="2032.7" width="9" height="3" fill="#222"/>
<text x="2413" y="2049.7" font-size="55.5" fill="#231f20" >1 300</text>
<rect x="2391" y="2125.4" width="9" height="3" fill="#222"/>
<text x="2413" y="2142.4" font-size="55.5" fill="#231f20" >1 100</text>
<rect x="2391" y="2218.1" width="9" height="3" fill="#222"/>
<text x="2413" y="2235.1" font-size="55.5" fill="#231f20" >900</text>
<rect x="2391" y="2310.8" width="9" height="3" fill="#222"/>
<text x="2413" y="2327.8" font-size="55.5" fill="#231f20" >700</text>
<rect x="2391" y="2403.5" width="9" height="3" fill="#222"/>
<text x="2413" y="2420.5" font-size="55.5" fill="#231f20" >500</text>
<text x="2296.8" y="1425.6" font-size="55.5" fill="#231f20" >Velocity/(m·s<tspan font-size="33" dy="-22">−1</tspan><tspan dy="22">)</tspan></text>
<rect x="2353.3" y="3052.0" width="37.29999999999973" height="106.75" fill="#ec2028"/>
<rect x="2353.3" y="3158.75" width="37.29999999999973" height="106.75" fill="#f26b21"/>
<rect x="2353.3" y="3265.5" width="37.29999999999973" height="106.75" fill="#e6e832"/>
<rect x="2353.3" y="3372.25" width="37.29999999999973" height="106.75" fill="#84c92a"/>
<rect x="2353.3" y="3479.0" width="37.29999999999973" height="106.75" fill="#62c034"/>
<rect x="2353.3" y="3585.75" width="37.29999999999973" height="106.75" fill="#74d0d0"/>
<rect x="2353.3" y="3692.5" width="37.29999999999973" height="106.75" fill="#4574c2"/>
<rect x="2353.3" y="3799.25" width="37.29999999999973" height="106.75" fill="#3350a8"/>
<rect x="2354.55" y="3053.25" width="34.79999999999973" height="851.5" fill="none" stroke="#111" stroke-width="2.5"/>
<rect x="2390.6" y="3051.5" width="9" height="3" fill="#222"/>
<text x="2413" y="3068.5" font-size="55.5" fill="#231f20" >4 500</text>
<rect x="2390.6" y="3136.7" width="9" height="3" fill="#222"/>
<text x="2413" y="3153.7" font-size="55.5" fill="#231f20" >4 100</text>
<rect x="2390.6" y="3221.9" width="9" height="3" fill="#222"/>
<text x="2413" y="3238.9" font-size="55.5" fill="#231f20" >3 700</text>
<rect x="2390.6" y="3307.1" width="9" height="3" fill="#222"/>
<text x="2413" y="3324.1" font-size="55.5" fill="#231f20" >3 300</text>
<rect x="2390.6" y="3392.3" width="9" height="3" fill="#222"/>
<text x="2413" y="3409.3" font-size="55.5" fill="#231f20" >2 900</text>
<rect x="2390.6" y="3477.5" width="9" height="3" fill="#222"/>
<text x="2413" y="3494.5" font-size="55.5" fill="#231f20" >2 500</text>
<rect x="2390.6" y="3562.7" width="9" height="3" fill="#222"/>
<text x="2413" y="3579.7" font-size="55.5" fill="#231f20" >2 100</text>
<rect x="2390.6" y="3647.9" width="9" height="3" fill="#222"/>
<text x="2413" y="3664.9" font-size="55.5" fill="#231f20" >1 700</text>
<rect x="2390.6" y="3733.1" width="9" height="3" fill="#222"/>
<text x="2413" y="3750.1" font-size="55.5" fill="#231f20" >1 300</text>
<rect x="2390.6" y="3818.3" width="9" height="3" fill="#222"/>
<text x="2413" y="3835.3" font-size="55.5" fill="#231f20" >900</text>
<rect x="2390.6" y="3903.5" width="9" height="3" fill="#222"/>
<text x="2413" y="3920.5" font-size="55.5" fill="#231f20" >500</text>
<text x="2295" y="2983.4" font-size="55.5" fill="#231f20" >Velocity/(m·s<tspan font-size="33" dy="-22">−1</tspan><tspan dy="22">)</tspan></text>
</svg></body></html>
